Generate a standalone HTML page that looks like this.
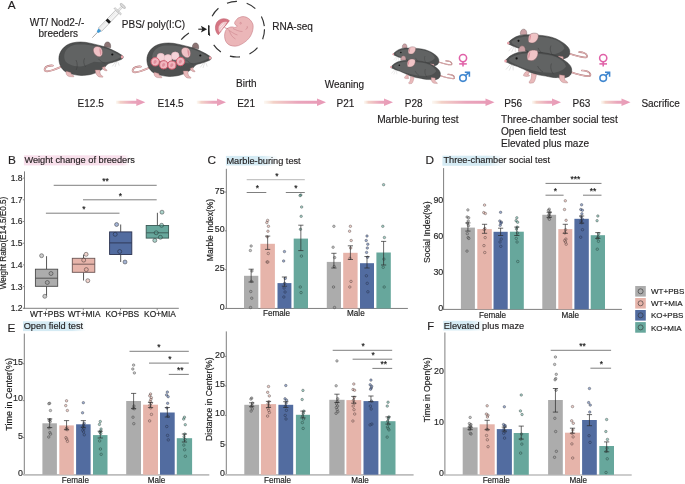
<!DOCTYPE html>
<html><head><meta charset="utf-8"><style>
html,body{margin:0;padding:0;background:#fff;}
svg{display:block;font-family:"Liberation Sans", sans-serif;will-change:transform;}
text{stroke:#1a1a1a;stroke-width:0.22px;stroke-opacity:0.7;}
</style></head><body>
<svg width="685" height="484" viewBox="0 0 685 484">
<rect width="685" height="484" fill="#fff"/>
<defs>
<g id="mouse">
<path d="M60.6,67 C55,69.5 49,72 46,71.2 C43.6,70.5 44.6,67.4 47.6,66.2 C49.4,65.6 51.2,65.4 52.8,65.6" fill="none" stroke="#a87476" stroke-width="1.8" stroke-linecap="round"/><path d="M60.6,67 C55,69.5 49,72 46,71.2 C43.6,70.5 44.6,67.4 47.6,66.2 C49.4,65.6 51.2,65.4 52.8,65.6" fill="none" stroke="#ebbcbd" stroke-width="1.1" stroke-linecap="round"/>
<path d="M104.4,46.8 C104,44 105.4,41.9 107.6,41.9 C110,41.9 111,44.4 110.6,47.8 Z" fill="#8c7474" stroke="#4a3c3c" stroke-width="0.4"/>
<path d="M58.9,58.8 C58.8,52 64,45 72,43 C78,41.5 84,41.8 90,43.2 C96,44.5 101,45.8 104.5,46.8 C110,48.5 117,52 122.3,55.5 C123.8,56.5 123.5,58.5 121.5,59.3 C119,60.2 117.5,61 115.8,61.5 C113,62.4 110,63 108.8,63.5 C107,64.5 106,65.5 105.4,66.6 C101,70.5 96.5,73 92.3,74 C88,75.2 84.5,75.5 81,75.4 C76,75.2 70,74 66,72 C61.5,69.5 59,64.5 58.9,58.8 Z" fill="#4e5050" stroke="#303030" stroke-width="0.5"/>
<path d="M64.3,55 C65.5,48.5 71,45 77,44.6 C83,44.2 90,44.8 96,46.2 C101,47.4 106,48.6 110,50.2 C115,52.5 119,54.8 121.5,56.6 C119,58.6 115,60.4 110,61.4 C104,62.5 98,62.4 94,61.8 C90,63.4 86,66.2 80,66.4 C73,66.6 67.5,64 65.6,61.6 C64.4,59.6 64,57 64.3,55 Z" fill="#616363"/>
<path d="M76,60 C77.6,63 77.6,67 76.2,70 M84.6,58.2 C83.2,61 83.6,64.4 85.6,66.8 M98.4,58.8 C100.5,61.5 103,62.8 105.5,63.2" fill="none" stroke="#383838" stroke-width="0.45"/>
<path d="M66.2,71.2 C65.6,73.8 66.6,75.8 69.2,76.6 L73.8,76.8 C74.2,75.6 72.6,74.8 71.4,74.4 L70.6,72.6 Z" fill="#e9b9ba" stroke="#a87476" stroke-width="0.4"/>
<path d="M95.2,70 C95.6,73.2 96.6,75.6 99,76.9 L102.8,77.2 C103.2,76.2 101.8,75.4 100.6,75 C100,73.4 99.8,71.6 100,70 Z" fill="#e9b9ba" stroke="#a87476" stroke-width="0.4"/>
<path d="M102.2,67.4 C102.6,69.6 104.6,70.9 107,70.8 C107.2,69.8 106,69.2 105,68.8 L105,66.4 Z" fill="#e9b9ba" stroke="#a87476" stroke-width="0.4"/>
<path d="M93.4,51.2 C92.8,48.2 94.8,46.4 97.6,46.5 C100.6,46.6 102.6,49 102.6,52.6 C102.6,55.2 101.2,56.8 99.4,56.8 C96.6,56.6 93.9,54.2 93.4,51.2 Z" fill="#f0c2c6" stroke="#6e5256" stroke-width="0.45"/>
<path d="M99.4,48 C101.6,49.6 102,52.8 100.8,55.8 C100,54 99.2,51 99.4,48 Z" fill="#d98f9a"/>
<circle cx="112.3" cy="54.5" r="1.1" fill="#111"/>
<ellipse cx="122.1" cy="56.9" rx="1.3" ry="1.6" fill="#e9a2aa"/>
<path d="M115.5,62 L112.3,66.4 M116.6,62 L115,67 M117.8,61.6 L119.2,65.6" stroke="#b4b4b4" stroke-width="0.35" fill="none"/>
</g>
<g id="wmouse">
<path d="M570,71.8 C577,74.2 584,76.4 589,76.2 C591.4,76 590.6,73 587.6,71.6 C585.6,70.7 583.6,70.4 581.8,70.5" fill="none" stroke="#a87476" stroke-width="1.7" stroke-linecap="round"/><path d="M570,71.8 C577,74.2 584,76.4 589,76.2 C591.4,76 590.6,73 587.6,71.6 C585.6,70.7 583.6,70.4 581.8,70.5" fill="none" stroke="#ebbcbd" stroke-width="1.0" stroke-linecap="round"/>
<path d="M518.6,51.6 C518.2,48.2 519.8,45.8 522.2,45.8 C524.6,45.8 525.8,48.4 525.4,51.8 Z" fill="#caa0a4" stroke="#5a4848" stroke-width="0.4"/>
<path d="M505.3,60.6 C507.5,57.8 512,54 518,52.6 C524,51.4 532,51.8 541.6,52.6 C549,53.2 556,55.2 561,58.2 C566.5,61.5 571,65 571.6,68.8 C572,72.5 571,75 569.3,76 C566,78.2 561.5,78.2 557.5,77.6 C553,77.8 549,76.8 545.8,76 C538,75.2 531,73 527,70.8 C522,68.4 518,66.6 515.3,65.8 C512,64.8 509.5,63.6 507.6,62.6 C506,62.1 505,61.4 505.3,60.6 Z" fill="#4e5050" stroke="#303030" stroke-width="0.5"/>
<path d="M509,59.2 C513,55.6 520,53.6 530,53.6 C540,53.6 550,54.6 557,57.6 C562,60 565,63 566,66.5 C563,70.5 558,72.6 552,72.8 C544,73 536,71.8 529,69.6 C522,67.6 516,65 511.6,62.6 C510,61.6 509,60.4 509,59.2 Z" fill="#616363"/>
<path d="M551.5,63.5 C550,67 551,71 553.5,74.2 M537.6,66 C538.8,68.6 540.6,70.6 543,72" fill="none" stroke="#383838" stroke-width="0.45"/>
<path d="M559.4,74.8 C558.8,78.2 560,81.4 563,82.6 L567.6,83 C568,81.8 566.4,80.8 564.8,80.4 L564.6,75.6 Z" fill="#e9b9ba" stroke="#a87476" stroke-width="0.4"/>
<path d="M531.4,73.4 C532,76.8 531.2,79.8 529.4,81.4 C528.6,82.2 529.2,83.2 530.6,83.2 L533.4,82.8 C534.6,81.8 535.2,79.6 535.8,77.6 L536.4,74.6 Z" fill="#e9b9ba" stroke="#a87476" stroke-width="0.4"/>
<path d="M526.6,71 C525,72.4 523.6,74.2 523.4,75.6 C524.6,76.6 527.4,76.6 529.4,76 C529.8,75 528.6,74.6 527.6,74.6 L529.6,72.4 Z" fill="#e9b9ba" stroke="#a87476" stroke-width="0.4"/>
<path d="M527.4,59.6 C526.6,55.5 527.4,51.8 530.5,50.6 C533,49.8 536.2,50 537.6,51.2 C538.6,53.5 537.6,57.2 535,59.4 C532.8,61.2 529.2,61.2 527.4,59.6 Z" fill="#f0c4c6" stroke="#6e5256" stroke-width="0.45"/>
<path d="M528.6,58.8 C527.8,55.6 528.4,53 530.4,51.4 C529.8,54 529.8,56.6 528.6,58.8 Z" fill="#d98f9a"/>
<circle cx="516.6" cy="58.4" r="1.1" fill="#111"/>
<ellipse cx="505.6" cy="60.9" rx="1.3" ry="1.5" fill="#e9a2aa"/>
<path d="M510.5,64.2 L506,69.5 M511.8,64.6 L509.2,70.6 M513,64.8 L513.2,70.4" stroke="#b4b4b4" stroke-width="0.35" fill="none"/>
</g>
<linearGradient id="gp" x1="0" x2="1"><stop offset="0" stop-color="#f9e0ec"/><stop offset="0.85" stop-color="#fbe7f0"/><stop offset="1" stop-color="#fdf3f7"/></linearGradient>
<linearGradient id="bp" x1="0" x2="1"><stop offset="0" stop-color="#d6eef6"/><stop offset="0.7" stop-color="#e4f3f9"/><stop offset="1" stop-color="#ffffff"/></linearGradient>
<linearGradient id="ag0" gradientUnits="userSpaceOnUse" x1="116" x2="145.3" y1="0" y2="0"><stop offset="0" stop-color="#f6e6d4" stop-opacity="0.3"/><stop offset="0.15" stop-color="#f3d2c8"/><stop offset="0.55" stop-color="#eaa6bc"/><stop offset="1" stop-color="#e898b6"/></linearGradient>
<linearGradient id="ag1" gradientUnits="userSpaceOnUse" x1="196.8" x2="226" y1="0" y2="0"><stop offset="0" stop-color="#f6e6d4" stop-opacity="0.3"/><stop offset="0.15" stop-color="#f3d2c8"/><stop offset="0.55" stop-color="#eaa6bc"/><stop offset="1" stop-color="#e898b6"/></linearGradient>
<linearGradient id="ag2" gradientUnits="userSpaceOnUse" x1="264" x2="326" y1="0" y2="0"><stop offset="0" stop-color="#f6e6d4" stop-opacity="0.3"/><stop offset="0.15" stop-color="#f3d2c8"/><stop offset="0.55" stop-color="#eaa6bc"/><stop offset="1" stop-color="#e898b6"/></linearGradient>
<linearGradient id="ag3" gradientUnits="userSpaceOnUse" x1="364" x2="393" y1="0" y2="0"><stop offset="0" stop-color="#f6e6d4" stop-opacity="0.3"/><stop offset="0.15" stop-color="#f3d2c8"/><stop offset="0.55" stop-color="#eaa6bc"/><stop offset="1" stop-color="#e898b6"/></linearGradient>
<linearGradient id="ag4" gradientUnits="userSpaceOnUse" x1="432" x2="494.5" y1="0" y2="0"><stop offset="0" stop-color="#f6e6d4" stop-opacity="0.3"/><stop offset="0.15" stop-color="#f3d2c8"/><stop offset="0.55" stop-color="#eaa6bc"/><stop offset="1" stop-color="#e898b6"/></linearGradient>
<linearGradient id="ag5" gradientUnits="userSpaceOnUse" x1="532" x2="561" y1="0" y2="0"><stop offset="0" stop-color="#f6e6d4" stop-opacity="0.3"/><stop offset="0.15" stop-color="#f3d2c8"/><stop offset="0.55" stop-color="#eaa6bc"/><stop offset="1" stop-color="#e898b6"/></linearGradient>
<linearGradient id="ag6" gradientUnits="userSpaceOnUse" x1="601" x2="630.5" y1="0" y2="0"><stop offset="0" stop-color="#f6e6d4" stop-opacity="0.3"/><stop offset="0.15" stop-color="#f3d2c8"/><stop offset="0.55" stop-color="#eaa6bc"/><stop offset="1" stop-color="#e898b6"/></linearGradient>
<linearGradient id="tg0" gradientUnits="userSpaceOnUse" x1="23.9" x2="130" y1="0" y2="0"><stop offset="0" stop-color="#f8dfeb"/><stop offset="0.925" stop-color="#f8dfeb"/><stop offset="1" stop-color="#f8dfeb" stop-opacity="0"/></linearGradient>
<linearGradient id="tg1" gradientUnits="userSpaceOnUse" x1="225.9" x2="278" y1="0" y2="0"><stop offset="0" stop-color="#d5ebf4"/><stop offset="0.693" stop-color="#d5ebf4"/><stop offset="1" stop-color="#d5ebf4" stop-opacity="0"/></linearGradient>
<linearGradient id="tg2" gradientUnits="userSpaceOnUse" x1="442.4" x2="506" y1="0" y2="0"><stop offset="0" stop-color="#d5ebf4"/><stop offset="0.701" stop-color="#d5ebf4"/><stop offset="1" stop-color="#d5ebf4" stop-opacity="0"/></linearGradient>
<linearGradient id="tg3" gradientUnits="userSpaceOnUse" x1="23" x2="86" y1="0" y2="0"><stop offset="0" stop-color="#d5ebf4"/><stop offset="0.778" stop-color="#d5ebf4"/><stop offset="1" stop-color="#d5ebf4" stop-opacity="0"/></linearGradient>
<linearGradient id="tg4" gradientUnits="userSpaceOnUse" x1="443.3" x2="486" y1="0" y2="0"><stop offset="0" stop-color="#d5ebf4"/><stop offset="0.625" stop-color="#d5ebf4"/><stop offset="1" stop-color="#d5ebf4" stop-opacity="0"/></linearGradient>
</defs>
<text x="7.8" y="8.8" font-size="11.8" text-anchor="start" fill="#231f20" >A</text>
<text x="29.8" y="25.5" font-size="10" text-anchor="start" fill="#231f20" >WT/ Nod2-/-</text>
<text x="38.5" y="37.2" font-size="10" text-anchor="start" fill="#231f20" >breeders</text>
<text x="121.8" y="27.6" font-size="10" text-anchor="start" fill="#231f20" >PBS/ poly(I:C)</text>
<text x="272.2" y="30.4" font-size="10" text-anchor="start" fill="#231f20" >RNA-seq</text>
<text x="236.0" y="87.2" font-size="10" text-anchor="start" fill="#231f20" >Birth</text>
<text x="324.8" y="87.6" font-size="10" text-anchor="start" fill="#231f20" >Weaning</text>
<text x="77.6" y="106.9" font-size="10" text-anchor="start" fill="#231f20" >E12.5</text>
<text x="157.5" y="106.9" font-size="10" text-anchor="start" fill="#231f20" >E14.5</text>
<text x="237.2" y="106.9" font-size="10" text-anchor="start" fill="#231f20" >E21</text>
<text x="336.5" y="106.9" font-size="10" text-anchor="start" fill="#231f20" >P21</text>
<text x="404.8" y="106.9" font-size="10" text-anchor="start" fill="#231f20" >P28</text>
<text x="504.3" y="106.9" font-size="10" text-anchor="start" fill="#231f20" >P56</text>
<text x="572.5" y="106.9" font-size="10" text-anchor="start" fill="#231f20" >P63</text>
<text x="641.4" y="106.9" font-size="10" text-anchor="start" fill="#231f20" >Sacrifice</text>
<text x="377.2" y="123.0" font-size="10.1" text-anchor="start" fill="#231f20" >Marble-buring test</text>
<text x="501.0" y="123.0" font-size="10.1" text-anchor="start" fill="#231f20" >Three-chamber social test</text>
<text x="501.0" y="135.1" font-size="10.1" text-anchor="start" fill="#231f20" >Open field test</text>
<text x="501.0" y="147.2" font-size="10.1" text-anchor="start" fill="#231f20" >Elevated plus maze</text>
<path d="M116,100.8 L136.3,100.8 L136.3,98.4 L145.3,102.3 L136.3,106.1 L136.3,103.8 L116,103.8 Z" fill="url(#ag0)"/>
<path d="M196.8,100.8 L217,100.8 L217,98.4 L226,102.3 L217,106.1 L217,103.8 L196.8,103.8 Z" fill="url(#ag1)"/>
<path d="M264,100.8 L317,100.8 L317,98.4 L326,102.3 L317,106.1 L317,103.8 L264,103.8 Z" fill="url(#ag2)"/>
<path d="M364,100.8 L384,100.8 L384,98.4 L393,102.3 L384,106.1 L384,103.8 L364,103.8 Z" fill="url(#ag3)"/>
<path d="M432,100.8 L485.5,100.8 L485.5,98.4 L494.5,102.3 L485.5,106.1 L485.5,103.8 L432,103.8 Z" fill="url(#ag4)"/>
<path d="M532,100.8 L552,100.8 L552,98.4 L561,102.3 L552,106.1 L552,103.8 L532,103.8 Z" fill="url(#ag5)"/>
<path d="M601,100.8 L621.5,100.8 L621.5,98.4 L630.5,102.3 L621.5,106.1 L621.5,103.8 L601,103.8 Z" fill="url(#ag6)"/>
<circle cx="236.7" cy="29.2" r="27.8" fill="none" stroke="#333" stroke-width="1.15" stroke-dasharray="10.2 9.94"/>
<path d="M181.2,39.7 Q184.8,35.8 188.9,33.1" fill="none" stroke="#333" stroke-width="1.15"/>
<line x1="198.3" y1="29.2" x2="204" y2="29.2" stroke="#222" stroke-width="1.1"/>
<path d="M200.9,25.8 L207.1,29.2 L200.9,32.6 L202.3,29.2 Z" fill="#222"/>
<line x1="208.6" y1="25.3" x2="208.6" y2="35" stroke="#222" stroke-width="1.1"/>
<path d="M243.1,16.6 C247,16.6 251,19.5 252.8,24 C254,28 252,34 249.7,37.3 C247,41 243,43.8 238.5,45.6 C235,46.8 230,46 227.8,43.9 C224.8,41.3 223.8,36 225.3,31.5 C226,29.6 226.8,28.8 227.8,28.2 C229.5,27 232,26.6 233.6,27.2 C234.8,27.8 236.4,27.2 237.3,26.1 C236.6,25.4 235.6,25.1 235.1,24.5 C234.5,23.6 234.5,22.8 234.8,22.3 C235.3,21 235.8,20.5 236.4,19.9 C237.2,18.6 238.2,17.8 239.3,17.6 C240.5,16.9 241.8,16.6 243.1,16.6 Z" fill="#ebb6b8" stroke="#c77a84" stroke-width="0.6"/>
<path d="M227.8,29.5 C231,31.5 234,34 237.5,35 M229.5,31 C230.5,34.5 232.5,37.5 235.5,39 M233,28.5 C236,30 239,31.5 242.5,31.5" fill="none" stroke="#c77a84" stroke-width="0.5"/>
<circle cx="240.6" cy="23.2" r="0.8" fill="none" stroke="#c77a84" stroke-width="0.5"/>
<path d="M247.2,26.2 Q248.2,28.6 245.6,29.4" fill="none" stroke="#c77a84" stroke-width="0.55"/>
<path d="M229.4,20.7 C226,17.6 219.6,18 216.8,22.5 C214.6,26.4 215,31.5 218.3,34.8 Z" fill="#d57583" stroke="#b8505f" stroke-width="0.5"/>
<path d="M227.3,22.1 C224.2,20.8 220.2,22.6 218.9,26.2 C218.1,28.6 218.4,30.8 219.6,32.4 Z" fill="#f0c6ca"/>
<path d="M220.5,29.5 L225,24.5 M221.5,31 L226,26 M219.8,27.5 L223.5,23.3" stroke="#ffffff" stroke-width="0.6"/>
<path d="M224.5,27.5 C225.5,28.2 226.8,28.6 228,28.6" fill="none" stroke="#c77a84" stroke-width="0.8"/>
<g transform="translate(92.3,37.7) rotate(-46.1)"><line x1="0" y1="0" x2="9" y2="0" stroke="#8a8a8a" stroke-width="0.7"/><path d="M7.6,-1.1 L11.2,-2.1 L11.2,2.1 L7.6,1.1 Z" fill="#3f9ad6"/><rect x="11.2" y="-2.3" width="24.8" height="4.6" fill="#f3f3f3" stroke="#a0a0a0" stroke-width="0.55"/><line x1="13.5" y1="-0.9" x2="33.5" y2="-0.9" stroke="#bdbdbd" stroke-width="0.6" stroke-dasharray="0.5 1.1"/><rect x="21.6" y="-2.3" width="2.9" height="4.6" fill="#1a1a1a"/><rect x="36" y="-4.6" width="1.5" height="9.2" rx="0.6" fill="#e8e8e8" stroke="#a0a0a0" stroke-width="0.5"/><rect x="37.5" y="-0.9" width="5.6" height="1.8" fill="#ececec" stroke="#a0a0a0" stroke-width="0.4"/><ellipse cx="44" cy="0" rx="1.3" ry="3.4" fill="#dcdcdc" stroke="#a0a0a0" stroke-width="0.5"/></g>
<use href="#mouse" />
<use href="#mouse" transform="translate(88,1)"/>
<circle cx="160.8" cy="57.2" r="3.9" fill="#f5d3d8" stroke="#eebcc4" stroke-width="0.6"/>
<circle cx="168.0" cy="58.5" r="3.9" fill="#f5d3d8" stroke="#eebcc4" stroke-width="0.6"/>
<circle cx="175.2" cy="55.9" r="3.9" fill="#f5d3d8" stroke="#eebcc4" stroke-width="0.6"/>
<circle cx="155.2" cy="61.8" r="4.2" fill="#f0b6be" stroke="#d25a6c" stroke-width="0.95"/>
<path d="M153.6,63.199999999999996 C153.2,61.199999999999996 154.6,59.599999999999994 156.0,60.199999999999996 C157.2,60.8 156.79999999999998,62.599999999999994 155.6,63.199999999999996 C155.0,64.0 154.2,64.0 153.6,63.199999999999996 Z" fill="#e08e9c"/>
<circle cx="163.7" cy="64.8" r="4.1" fill="#f0b6be" stroke="#d25a6c" stroke-width="0.95"/>
<path d="M162.1,66.2 C161.7,64.2 163.1,62.599999999999994 164.5,63.199999999999996 C165.7,63.8 165.29999999999998,65.6 164.1,66.2 C163.5,67.0 162.7,67.0 162.1,66.2 Z" fill="#e08e9c"/>
<circle cx="171.9" cy="65.1" r="4.1" fill="#f0b6be" stroke="#d25a6c" stroke-width="0.95"/>
<path d="M170.3,66.5 C169.9,64.5 171.3,62.89999999999999 172.70000000000002,63.49999999999999 C173.9,64.1 173.5,65.89999999999999 172.3,66.5 C171.70000000000002,67.3 170.9,67.3 170.3,66.5 Z" fill="#e08e9c"/>
<circle cx="180.5" cy="61.5" r="4.2" fill="#f0b6be" stroke="#d25a6c" stroke-width="0.95"/>
<path d="M178.9,62.9 C178.5,60.9 179.9,59.3 181.3,59.9 C182.5,60.5 182.1,62.3 180.9,62.9 C180.3,63.7 179.5,63.7 178.9,62.9 Z" fill="#e08e9c"/>
<use href="#wmouse" transform="translate(393.1,54.0) scale(0.69) translate(-505.3,-60.6)"/>
<use href="#wmouse" transform="translate(390.9,66.9) scale(0.746) translate(-505.3,-60.6)"/>
<use href="#wmouse" transform="translate(508.0,42.9) scale(0.93) translate(-505.3,-60.6)"/>
<use href="#wmouse"/>
<g fill="none" stroke-width="1.55"><circle cx="463.0" cy="58.1" r="3.6" stroke="#e062a8"/><line x1="463.0" y1="61.7" x2="463.0" y2="66.6" stroke="#e062a8"/><line x1="459.2" y1="63.9" x2="466.8" y2="63.9" stroke="#e062a8"/><circle cx="463.0" cy="78.1" r="3.3" stroke="#3f86cf"/><path d="M465.4,75.6 L469.4,72.2 M464.8,72.2 L469.4,72.2 L469.4,76.8" stroke="#3f86cf"/></g>
<g fill="none" stroke-width="1.55"><circle cx="603.2" cy="58.1" r="3.6" stroke="#e062a8"/><line x1="603.2" y1="61.7" x2="603.2" y2="66.6" stroke="#e062a8"/><line x1="599.4000000000001" y1="63.9" x2="607.0" y2="63.9" stroke="#e062a8"/><circle cx="603.2" cy="78.1" r="3.3" stroke="#3f86cf"/><path d="M605.6,75.6 L609.6,72.2 M605.0,72.2 L609.6,72.2 L609.6,76.8" stroke="#3f86cf"/></g>
<rect x="23.9" y="155.3" width="106.10" height="10.10" fill="url(#tg0)"/>
<text x="8.0" y="163.8" font-size="11.8" text-anchor="start" fill="#231f20" >B</text>
<text x="24.4" y="163.4" font-size="9.22" text-anchor="start" fill="#231f20" >Weight change of breeders</text>
<line x1="24.5" y1="171.4" x2="24.5" y2="308.8" stroke="#7f7f7f" stroke-width="1"/>
<line x1="22.9" y1="308.3" x2="24.5" y2="308.3" stroke="#7f7f7f" stroke-width="0.9"/>
<text x="22.6" y="311.21320000000003" font-size="8.6" text-anchor="end" fill="#2a2a2a" >1.2</text>
<line x1="22.9" y1="286.6" x2="24.5" y2="286.6" stroke="#7f7f7f" stroke-width="0.9"/>
<text x="22.6" y="289.51320000000004" font-size="8.6" text-anchor="end" fill="#2a2a2a" >1.3</text>
<line x1="22.9" y1="264.90000000000003" x2="24.5" y2="264.90000000000003" stroke="#7f7f7f" stroke-width="0.9"/>
<text x="22.6" y="267.81320000000005" font-size="8.6" text-anchor="end" fill="#2a2a2a" >1.4</text>
<line x1="22.9" y1="243.20000000000002" x2="24.5" y2="243.20000000000002" stroke="#7f7f7f" stroke-width="0.9"/>
<text x="22.6" y="246.11320000000003" font-size="8.6" text-anchor="end" fill="#2a2a2a" >1.5</text>
<line x1="22.9" y1="221.5" x2="24.5" y2="221.5" stroke="#7f7f7f" stroke-width="0.9"/>
<text x="22.6" y="224.41320000000002" font-size="8.6" text-anchor="end" fill="#2a2a2a" >1.6</text>
<line x1="22.9" y1="199.8" x2="24.5" y2="199.8" stroke="#7f7f7f" stroke-width="0.9"/>
<text x="22.6" y="202.71320000000003" font-size="8.6" text-anchor="end" fill="#2a2a2a" >1.7</text>
<line x1="22.9" y1="178.10000000000002" x2="24.5" y2="178.10000000000002" stroke="#7f7f7f" stroke-width="0.9"/>
<text x="22.6" y="181.01320000000004" font-size="8.6" text-anchor="end" fill="#2a2a2a" >1.8</text>
<line x1="23.5" y1="308.3" x2="178.8" y2="308.3" stroke="#7f7f7f" stroke-width="1"/>
<line x1="46.3" y1="308.3" x2="46.3" y2="310.3" stroke="#7f7f7f" stroke-width="0.9"/>
<line x1="83.3" y1="308.3" x2="83.3" y2="310.3" stroke="#7f7f7f" stroke-width="0.9"/>
<line x1="120.5" y1="308.3" x2="120.5" y2="310.3" stroke="#7f7f7f" stroke-width="0.9"/>
<line x1="157.2" y1="308.3" x2="157.2" y2="310.3" stroke="#7f7f7f" stroke-width="0.9"/>
<text x="47.3" y="317.2" font-size="8.4" text-anchor="middle" fill="#222" >WT+PBS</text>
<text x="84.1" y="317.2" font-size="8.4" text-anchor="middle" fill="#222" >WT+MIA</text>
<text x="122.3" y="317.2" font-size="8.4" text-anchor="middle" fill="#222" >KO+PBS</text>
<text x="160" y="317.2" font-size="8.4" text-anchor="middle" fill="#222" >KO+MIA</text>
<text x="0" y="0" font-size="8.2" text-anchor="middle" fill="#222" transform="translate(5.8,243) rotate(-90)">Weight Ratio(E14.5/E0.5)</text>
<line x1="46.55" y1="256.2" x2="46.55" y2="269.2" stroke="#444" stroke-width="0.9"/>
<line x1="46.55" y1="286.3" x2="46.55" y2="295.4" stroke="#444" stroke-width="0.9"/>
<rect x="35.4" y="269.2" width="22.30" height="17.10" fill="#acacac" stroke="#4a4a4a" stroke-width="0.9"/>
<line x1="35.4" y1="278.2" x2="57.7" y2="278.2" stroke="#4a4a4a" stroke-width="0.9"/>
<circle cx="41.60" cy="255.70" r="2.0" fill="#9a9a9a" stroke="#1a1a1a" stroke-width="0.7" fill-opacity="0.5" stroke-opacity="0.6"/>
<circle cx="51.00" cy="273.50" r="2.0" fill="#9a9a9a" stroke="#1a1a1a" stroke-width="0.7" fill-opacity="0.5" stroke-opacity="0.6"/>
<circle cx="47.30" cy="282.50" r="2.0" fill="#9a9a9a" stroke="#1a1a1a" stroke-width="0.7" fill-opacity="0.5" stroke-opacity="0.6"/>
<circle cx="44.80" cy="296.30" r="2.0" fill="#9a9a9a" stroke="#1a1a1a" stroke-width="0.7" fill-opacity="0.5" stroke-opacity="0.6"/>
<line x1="83.55" y1="254.6" x2="83.55" y2="258.3" stroke="#444" stroke-width="0.9"/>
<line x1="83.55" y1="272.3" x2="83.55" y2="280.5" stroke="#444" stroke-width="0.9"/>
<rect x="72.3" y="258.3" width="22.50" height="14.00" fill="#e6b4aa" stroke="#6b5553" stroke-width="0.9"/>
<line x1="72.3" y1="264.2" x2="94.8" y2="264.2" stroke="#6b5553" stroke-width="0.9"/>
<circle cx="86.10" cy="254.30" r="2.0" fill="#e2a89c" stroke="#1a1a1a" stroke-width="0.7" fill-opacity="0.5" stroke-opacity="0.6"/>
<circle cx="83.70" cy="260.10" r="2.0" fill="#e2a89c" stroke="#1a1a1a" stroke-width="0.7" fill-opacity="0.5" stroke-opacity="0.6"/>
<circle cx="86.30" cy="269.60" r="2.0" fill="#e2a89c" stroke="#1a1a1a" stroke-width="0.7" fill-opacity="0.5" stroke-opacity="0.6"/>
<circle cx="87.80" cy="280.70" r="2.0" fill="#e2a89c" stroke="#1a1a1a" stroke-width="0.7" fill-opacity="0.5" stroke-opacity="0.6"/>
<line x1="120.7" y1="224.5" x2="120.7" y2="231.9" stroke="#444" stroke-width="0.9"/>
<line x1="120.7" y1="254.5" x2="120.7" y2="262" stroke="#444" stroke-width="0.9"/>
<rect x="109.6" y="231.9" width="22.20" height="22.60" fill="#526ca0" stroke="#2c3350" stroke-width="0.9"/>
<line x1="109.6" y1="242.9" x2="131.8" y2="242.9" stroke="#2c3350" stroke-width="0.9"/>
<circle cx="116.60" cy="224.50" r="2.0" fill="#4a68a8" stroke="#1a1a1a" stroke-width="0.7" fill-opacity="0.5" stroke-opacity="0.6"/>
<circle cx="115.20" cy="234.30" r="2.0" fill="#4a68a8" stroke="#1a1a1a" stroke-width="0.7" fill-opacity="0.5" stroke-opacity="0.6"/>
<circle cx="119.70" cy="251.50" r="2.0" fill="#4a68a8" stroke="#1a1a1a" stroke-width="0.7" fill-opacity="0.5" stroke-opacity="0.6"/>
<circle cx="125.00" cy="262.00" r="2.0" fill="#4a68a8" stroke="#1a1a1a" stroke-width="0.7" fill-opacity="0.5" stroke-opacity="0.6"/>
<line x1="157.39999999999998" y1="212.8" x2="157.39999999999998" y2="225.5" stroke="#444" stroke-width="0.9"/>
<line x1="157.39999999999998" y1="238.1" x2="157.39999999999998" y2="238.1" stroke="#444" stroke-width="0.9"/>
<rect x="146.2" y="225.5" width="22.40" height="12.60" fill="#67a79c" stroke="#3a5a55" stroke-width="0.9"/>
<line x1="146.2" y1="232.8" x2="168.6" y2="232.8" stroke="#3a5a55" stroke-width="0.9"/>
<circle cx="162.00" cy="212.20" r="2.0" fill="#5aa898" stroke="#1a1a1a" stroke-width="0.7" fill-opacity="0.5" stroke-opacity="0.6"/>
<circle cx="161.60" cy="225.30" r="2.0" fill="#5aa898" stroke="#1a1a1a" stroke-width="0.7" fill-opacity="0.5" stroke-opacity="0.6"/>
<circle cx="156.20" cy="232.80" r="2.0" fill="#5aa898" stroke="#1a1a1a" stroke-width="0.7" fill-opacity="0.5" stroke-opacity="0.6"/>
<circle cx="160.40" cy="237.30" r="2.0" fill="#5aa898" stroke="#1a1a1a" stroke-width="0.7" fill-opacity="0.5" stroke-opacity="0.6"/>
<circle cx="154.80" cy="240.40" r="2.0" fill="#5aa898" stroke="#1a1a1a" stroke-width="0.7" fill-opacity="0.5" stroke-opacity="0.6"/>
<line x1="53.7" y1="185.3" x2="156.7" y2="185.3" stroke="#7f7f7f" stroke-width="1"/>
<text x="105.5" y="184.20000000000002" font-size="8.5" text-anchor="middle" fill="#111" >**</text>
<line x1="83" y1="199.8" x2="156.7" y2="199.8" stroke="#7f7f7f" stroke-width="1"/>
<text x="120.4" y="198.70000000000002" font-size="8.5" text-anchor="middle" fill="#111" >*</text>
<line x1="45.9" y1="213.2" x2="119.5" y2="213.2" stroke="#7f7f7f" stroke-width="1"/>
<text x="83.9" y="212.1" font-size="8.5" text-anchor="middle" fill="#111" >*</text>
<rect x="225.9" y="155.9" width="52.10" height="9.60" fill="url(#tg1)"/>
<text x="207.4" y="164.4" font-size="11.8" text-anchor="start" fill="#231f20" >C</text>
<text x="226.4" y="163.5" font-size="9.22" text-anchor="start" fill="#231f20" >Marble-buring test</text>
<line x1="226.35" y1="168.8" x2="226.35" y2="308.95" stroke="#7f7f7f" stroke-width="1"/>
<line x1="224.75" y1="308.45" x2="226.35" y2="308.45" stroke="#7f7f7f" stroke-width="0.9"/>
<text x="224.6" y="310.0356" font-size="8.8" text-anchor="end" fill="#2a2a2a" >0</text>
<line x1="224.75" y1="269.65" x2="226.35" y2="269.65" stroke="#7f7f7f" stroke-width="0.9"/>
<text x="224.6" y="271.2356" font-size="8.8" text-anchor="end" fill="#2a2a2a" >25</text>
<line x1="224.75" y1="230.85" x2="226.35" y2="230.85" stroke="#7f7f7f" stroke-width="0.9"/>
<text x="224.6" y="232.4356" font-size="8.8" text-anchor="end" fill="#2a2a2a" >50</text>
<line x1="224.75" y1="192.05" x2="226.35" y2="192.05" stroke="#7f7f7f" stroke-width="0.9"/>
<text x="224.6" y="193.6356" font-size="8.8" text-anchor="end" fill="#2a2a2a" >75</text>
<line x1="225.35" y1="308.45" x2="407.9" y2="308.45" stroke="#7f7f7f" stroke-width="1"/>
<text x="0" y="0" font-size="8.5" text-anchor="middle" fill="#222" transform="translate(213.4,230) rotate(-90)">Marble Index(%)</text>
<rect x="244.00" y="275.80" width="14.30" height="32.65" fill="#acacac" />
<rect x="260.40" y="243.80" width="14.50" height="64.65" fill="#e6b4aa" />
<rect x="277.50" y="283.10" width="13.90" height="25.35" fill="#526ca0" />
<rect x="293.70" y="238.60" width="14.30" height="69.85" fill="#67a79c" />
<rect x="326.80" y="261.90" width="14.20" height="46.55" fill="#acacac" />
<rect x="343.20" y="252.80" width="14.40" height="55.65" fill="#e6b4aa" />
<rect x="360.00" y="263.20" width="14.00" height="45.25" fill="#526ca0" />
<rect x="376.40" y="252.50" width="14.40" height="55.95" fill="#67a79c" />
<circle cx="251.15" cy="246.00" r="1.25" fill="#9a9a9a" stroke="#1a1a1a" stroke-width="0.5" fill-opacity="0.55" stroke-opacity="0.65"/>
<circle cx="250.35" cy="250.50" r="1.25" fill="#9a9a9a" stroke="#1a1a1a" stroke-width="0.5" fill-opacity="0.55" stroke-opacity="0.65"/>
<circle cx="251.95" cy="271.00" r="1.25" fill="#9a9a9a" stroke="#1a1a1a" stroke-width="0.5" fill-opacity="0.55" stroke-opacity="0.65"/>
<circle cx="251.45" cy="281.40" r="1.25" fill="#9a9a9a" stroke="#1a1a1a" stroke-width="0.5" fill-opacity="0.55" stroke-opacity="0.65"/>
<circle cx="250.75" cy="291.50" r="1.25" fill="#9a9a9a" stroke="#1a1a1a" stroke-width="0.5" fill-opacity="0.55" stroke-opacity="0.65"/>
<circle cx="251.75" cy="298.20" r="1.25" fill="#9a9a9a" stroke="#1a1a1a" stroke-width="0.5" fill-opacity="0.55" stroke-opacity="0.65"/>
<circle cx="250.55" cy="307.50" r="1.25" fill="#9a9a9a" stroke="#1a1a1a" stroke-width="0.5" fill-opacity="0.55" stroke-opacity="0.65"/>
<circle cx="267.65" cy="220.40" r="1.25" fill="#e2a89c" stroke="#1a1a1a" stroke-width="0.5" fill-opacity="0.55" stroke-opacity="0.65"/>
<circle cx="266.85" cy="222.60" r="1.25" fill="#e2a89c" stroke="#1a1a1a" stroke-width="0.5" fill-opacity="0.55" stroke-opacity="0.65"/>
<circle cx="268.45" cy="226.30" r="1.25" fill="#e2a89c" stroke="#1a1a1a" stroke-width="0.5" fill-opacity="0.55" stroke-opacity="0.65"/>
<circle cx="267.95" cy="231.20" r="1.25" fill="#e2a89c" stroke="#1a1a1a" stroke-width="0.5" fill-opacity="0.55" stroke-opacity="0.65"/>
<circle cx="267.25" cy="236.80" r="1.25" fill="#e2a89c" stroke="#1a1a1a" stroke-width="0.5" fill-opacity="0.55" stroke-opacity="0.65"/>
<circle cx="268.25" cy="253.50" r="1.25" fill="#e2a89c" stroke="#1a1a1a" stroke-width="0.5" fill-opacity="0.55" stroke-opacity="0.65"/>
<circle cx="267.05" cy="262.00" r="1.25" fill="#e2a89c" stroke="#1a1a1a" stroke-width="0.5" fill-opacity="0.55" stroke-opacity="0.65"/>
<circle cx="267.85" cy="262.00" r="1.25" fill="#e2a89c" stroke="#1a1a1a" stroke-width="0.5" fill-opacity="0.55" stroke-opacity="0.65"/>
<circle cx="284.45" cy="251.60" r="1.25" fill="#4a68a8" stroke="#1a1a1a" stroke-width="0.5" fill-opacity="0.55" stroke-opacity="0.65"/>
<circle cx="283.65" cy="261.00" r="1.25" fill="#4a68a8" stroke="#1a1a1a" stroke-width="0.5" fill-opacity="0.55" stroke-opacity="0.65"/>
<circle cx="285.25" cy="278.40" r="1.25" fill="#4a68a8" stroke="#1a1a1a" stroke-width="0.5" fill-opacity="0.55" stroke-opacity="0.65"/>
<circle cx="284.75" cy="283.30" r="1.25" fill="#4a68a8" stroke="#1a1a1a" stroke-width="0.5" fill-opacity="0.55" stroke-opacity="0.65"/>
<circle cx="284.05" cy="288.00" r="1.25" fill="#4a68a8" stroke="#1a1a1a" stroke-width="0.5" fill-opacity="0.55" stroke-opacity="0.65"/>
<circle cx="285.05" cy="292.00" r="1.25" fill="#4a68a8" stroke="#1a1a1a" stroke-width="0.5" fill-opacity="0.55" stroke-opacity="0.65"/>
<circle cx="283.85" cy="297.00" r="1.25" fill="#4a68a8" stroke="#1a1a1a" stroke-width="0.5" fill-opacity="0.55" stroke-opacity="0.65"/>
<circle cx="300.85" cy="195.00" r="1.25" fill="#5aa898" stroke="#1a1a1a" stroke-width="0.5" fill-opacity="0.55" stroke-opacity="0.65"/>
<circle cx="300.05" cy="195.60" r="1.25" fill="#5aa898" stroke="#1a1a1a" stroke-width="0.5" fill-opacity="0.55" stroke-opacity="0.65"/>
<circle cx="301.65" cy="207.00" r="1.25" fill="#5aa898" stroke="#1a1a1a" stroke-width="0.5" fill-opacity="0.55" stroke-opacity="0.65"/>
<circle cx="301.15" cy="216.30" r="1.25" fill="#5aa898" stroke="#1a1a1a" stroke-width="0.5" fill-opacity="0.55" stroke-opacity="0.65"/>
<circle cx="300.45" cy="229.30" r="1.25" fill="#5aa898" stroke="#1a1a1a" stroke-width="0.5" fill-opacity="0.55" stroke-opacity="0.65"/>
<circle cx="301.45" cy="256.10" r="1.25" fill="#5aa898" stroke="#1a1a1a" stroke-width="0.5" fill-opacity="0.55" stroke-opacity="0.65"/>
<circle cx="300.25" cy="287.00" r="1.25" fill="#5aa898" stroke="#1a1a1a" stroke-width="0.5" fill-opacity="0.55" stroke-opacity="0.65"/>
<circle cx="301.05" cy="292.60" r="1.25" fill="#5aa898" stroke="#1a1a1a" stroke-width="0.5" fill-opacity="0.55" stroke-opacity="0.65"/>
<circle cx="333.90" cy="226.30" r="1.25" fill="#9a9a9a" stroke="#1a1a1a" stroke-width="0.5" fill-opacity="0.55" stroke-opacity="0.65"/>
<circle cx="333.10" cy="247.20" r="1.25" fill="#9a9a9a" stroke="#1a1a1a" stroke-width="0.5" fill-opacity="0.55" stroke-opacity="0.65"/>
<circle cx="334.70" cy="257.60" r="1.25" fill="#9a9a9a" stroke="#1a1a1a" stroke-width="0.5" fill-opacity="0.55" stroke-opacity="0.65"/>
<circle cx="334.20" cy="266.50" r="1.25" fill="#9a9a9a" stroke="#1a1a1a" stroke-width="0.5" fill-opacity="0.55" stroke-opacity="0.65"/>
<circle cx="333.50" cy="287.00" r="1.25" fill="#9a9a9a" stroke="#1a1a1a" stroke-width="0.5" fill-opacity="0.55" stroke-opacity="0.65"/>
<circle cx="334.50" cy="307.50" r="1.25" fill="#9a9a9a" stroke="#1a1a1a" stroke-width="0.5" fill-opacity="0.55" stroke-opacity="0.65"/>
<circle cx="350.40" cy="226.30" r="1.25" fill="#e2a89c" stroke="#1a1a1a" stroke-width="0.5" fill-opacity="0.55" stroke-opacity="0.65"/>
<circle cx="349.60" cy="231.20" r="1.25" fill="#e2a89c" stroke="#1a1a1a" stroke-width="0.5" fill-opacity="0.55" stroke-opacity="0.65"/>
<circle cx="351.20" cy="240.50" r="1.25" fill="#e2a89c" stroke="#1a1a1a" stroke-width="0.5" fill-opacity="0.55" stroke-opacity="0.65"/>
<circle cx="350.70" cy="248.00" r="1.25" fill="#e2a89c" stroke="#1a1a1a" stroke-width="0.5" fill-opacity="0.55" stroke-opacity="0.65"/>
<circle cx="350.00" cy="258.30" r="1.25" fill="#e2a89c" stroke="#1a1a1a" stroke-width="0.5" fill-opacity="0.55" stroke-opacity="0.65"/>
<circle cx="351.00" cy="281.40" r="1.25" fill="#e2a89c" stroke="#1a1a1a" stroke-width="0.5" fill-opacity="0.55" stroke-opacity="0.65"/>
<circle cx="349.80" cy="287.00" r="1.25" fill="#e2a89c" stroke="#1a1a1a" stroke-width="0.5" fill-opacity="0.55" stroke-opacity="0.65"/>
<circle cx="367.00" cy="236.00" r="1.25" fill="#4a68a8" stroke="#1a1a1a" stroke-width="0.5" fill-opacity="0.55" stroke-opacity="0.65"/>
<circle cx="366.20" cy="240.50" r="1.25" fill="#4a68a8" stroke="#1a1a1a" stroke-width="0.5" fill-opacity="0.55" stroke-opacity="0.65"/>
<circle cx="367.80" cy="244.20" r="1.25" fill="#4a68a8" stroke="#1a1a1a" stroke-width="0.5" fill-opacity="0.55" stroke-opacity="0.65"/>
<circle cx="367.30" cy="248.00" r="1.25" fill="#4a68a8" stroke="#1a1a1a" stroke-width="0.5" fill-opacity="0.55" stroke-opacity="0.65"/>
<circle cx="366.60" cy="252.40" r="1.25" fill="#4a68a8" stroke="#1a1a1a" stroke-width="0.5" fill-opacity="0.55" stroke-opacity="0.65"/>
<circle cx="367.60" cy="257.20" r="1.25" fill="#4a68a8" stroke="#1a1a1a" stroke-width="0.5" fill-opacity="0.55" stroke-opacity="0.65"/>
<circle cx="366.40" cy="275.80" r="1.25" fill="#4a68a8" stroke="#1a1a1a" stroke-width="0.5" fill-opacity="0.55" stroke-opacity="0.65"/>
<circle cx="367.20" cy="283.30" r="1.25" fill="#4a68a8" stroke="#1a1a1a" stroke-width="0.5" fill-opacity="0.55" stroke-opacity="0.65"/>
<circle cx="367.90" cy="291.80" r="1.25" fill="#4a68a8" stroke="#1a1a1a" stroke-width="0.5" fill-opacity="0.55" stroke-opacity="0.65"/>
<circle cx="383.60" cy="184.70" r="1.25" fill="#5aa898" stroke="#1a1a1a" stroke-width="0.5" fill-opacity="0.55" stroke-opacity="0.65"/>
<circle cx="382.80" cy="226.30" r="1.25" fill="#5aa898" stroke="#1a1a1a" stroke-width="0.5" fill-opacity="0.55" stroke-opacity="0.65"/>
<circle cx="384.40" cy="237.50" r="1.25" fill="#5aa898" stroke="#1a1a1a" stroke-width="0.5" fill-opacity="0.55" stroke-opacity="0.65"/>
<circle cx="383.90" cy="259.10" r="1.25" fill="#5aa898" stroke="#1a1a1a" stroke-width="0.5" fill-opacity="0.55" stroke-opacity="0.65"/>
<circle cx="383.20" cy="267.30" r="1.25" fill="#5aa898" stroke="#1a1a1a" stroke-width="0.5" fill-opacity="0.55" stroke-opacity="0.65"/>
<circle cx="384.20" cy="287.00" r="1.25" fill="#5aa898" stroke="#1a1a1a" stroke-width="0.5" fill-opacity="0.55" stroke-opacity="0.65"/>
<line x1="251.15" y1="269.2" x2="251.15" y2="282" stroke="#2a2a2a" stroke-width="0.7"/>
<line x1="248.55" y1="269.2" x2="253.75" y2="269.2" stroke="#2a2a2a" stroke-width="0.7"/>
<line x1="248.55" y1="282" x2="253.75" y2="282" stroke="#2a2a2a" stroke-width="0.7"/>
<line x1="267.65" y1="236.1" x2="267.65" y2="249.4" stroke="#2a2a2a" stroke-width="0.7"/>
<line x1="265.04999999999995" y1="236.1" x2="270.25" y2="236.1" stroke="#2a2a2a" stroke-width="0.7"/>
<line x1="265.04999999999995" y1="249.4" x2="270.25" y2="249.4" stroke="#2a2a2a" stroke-width="0.7"/>
<line x1="284.45" y1="277" x2="284.45" y2="286.2" stroke="#2a2a2a" stroke-width="0.7"/>
<line x1="281.84999999999997" y1="277" x2="287.05" y2="277" stroke="#2a2a2a" stroke-width="0.7"/>
<line x1="281.84999999999997" y1="286.2" x2="287.05" y2="286.2" stroke="#2a2a2a" stroke-width="0.7"/>
<line x1="300.85" y1="225.2" x2="300.85" y2="250.6" stroke="#2a2a2a" stroke-width="0.7"/>
<line x1="298.25" y1="225.2" x2="303.45000000000005" y2="225.2" stroke="#2a2a2a" stroke-width="0.7"/>
<line x1="298.25" y1="250.6" x2="303.45000000000005" y2="250.6" stroke="#2a2a2a" stroke-width="0.7"/>
<line x1="333.9" y1="253.3" x2="333.9" y2="268" stroke="#2a2a2a" stroke-width="0.7"/>
<line x1="331.29999999999995" y1="253.3" x2="336.5" y2="253.3" stroke="#2a2a2a" stroke-width="0.7"/>
<line x1="331.29999999999995" y1="268" x2="336.5" y2="268" stroke="#2a2a2a" stroke-width="0.7"/>
<line x1="350.4" y1="245.8" x2="350.4" y2="259.5" stroke="#2a2a2a" stroke-width="0.7"/>
<line x1="347.79999999999995" y1="245.8" x2="353.0" y2="245.8" stroke="#2a2a2a" stroke-width="0.7"/>
<line x1="347.79999999999995" y1="259.5" x2="353.0" y2="259.5" stroke="#2a2a2a" stroke-width="0.7"/>
<line x1="367.0" y1="256.5" x2="367.0" y2="268" stroke="#2a2a2a" stroke-width="0.7"/>
<line x1="364.4" y1="256.5" x2="369.6" y2="256.5" stroke="#2a2a2a" stroke-width="0.7"/>
<line x1="364.4" y1="268" x2="369.6" y2="268" stroke="#2a2a2a" stroke-width="0.7"/>
<line x1="383.6" y1="241.4" x2="383.6" y2="265" stroke="#2a2a2a" stroke-width="0.7"/>
<line x1="381.0" y1="241.4" x2="386.20000000000005" y2="241.4" stroke="#2a2a2a" stroke-width="0.7"/>
<line x1="381.0" y1="265" x2="386.20000000000005" y2="265" stroke="#2a2a2a" stroke-width="0.7"/>
<text x="276.5" y="316.1" font-size="8.15" text-anchor="middle" fill="#222" >Female</text>
<text x="355.9" y="316.1" font-size="8.15" text-anchor="middle" fill="#222" >Male</text>
<line x1="246.7" y1="179.6" x2="304.8" y2="179.6" stroke="#c4c4c4" stroke-width="1.3"/>
<text x="277" y="178.5" font-size="8.5" text-anchor="middle" fill="#111" >*</text>
<line x1="246.7" y1="192.5" x2="266.3" y2="192.5" stroke="#7f7f7f" stroke-width="1"/>
<text x="257.4" y="191.4" font-size="8.5" text-anchor="middle" fill="#111" >*</text>
<line x1="285.8" y1="192.5" x2="304.8" y2="192.5" stroke="#7f7f7f" stroke-width="1"/>
<text x="296" y="191.4" font-size="8.5" text-anchor="middle" fill="#111" >*</text>
<rect x="442.4" y="155.7" width="63.60" height="10.10" fill="url(#tg2)"/>
<text x="425.4" y="163.8" font-size="11.8" text-anchor="start" fill="#231f20" >D</text>
<text x="443.4" y="162.9" font-size="9.22" text-anchor="start" fill="#231f20" >Three-chamber social test</text>
<line x1="443.6" y1="168.1" x2="443.6" y2="309.7" stroke="#7f7f7f" stroke-width="1"/>
<text x="443.3" y="310.8218" font-size="8.9" text-anchor="end" fill="#2a2a2a" >0</text>
<text x="443.3" y="275.12179999999995" font-size="8.9" text-anchor="end" fill="#2a2a2a" >30</text>
<text x="443.3" y="239.3218" font-size="8.9" text-anchor="end" fill="#2a2a2a" >60</text>
<text x="443.3" y="203.0218" font-size="8.9" text-anchor="end" fill="#2a2a2a" >90</text>
<line x1="442.6" y1="309.4" x2="621.9" y2="309.4" stroke="#7f7f7f" stroke-width="1"/>
<text x="0" y="0" font-size="8.8" text-anchor="middle" fill="#222" transform="translate(430.2,232.2) rotate(-90)">Social Index(%)</text>
<rect x="460.90" y="227.60" width="14.00" height="81.70" fill="#acacac" />
<rect x="477.30" y="229.10" width="14.50" height="80.20" fill="#e6b4aa" />
<rect x="493.50" y="231.80" width="14.20" height="77.50" fill="#526ca0" />
<rect x="509.90" y="231.70" width="13.90" height="77.60" fill="#67a79c" />
<rect x="542.30" y="214.80" width="13.80" height="94.50" fill="#acacac" />
<rect x="558.30" y="229.10" width="14.00" height="80.20" fill="#e6b4aa" />
<rect x="574.40" y="218.80" width="14.40" height="90.50" fill="#526ca0" />
<rect x="590.70" y="235.20" width="14.30" height="74.10" fill="#67a79c" />
<circle cx="467.90" cy="209.90" r="1.25" fill="#9a9a9a" stroke="#1a1a1a" stroke-width="0.5" fill-opacity="0.55" stroke-opacity="0.65"/>
<circle cx="467.10" cy="217.00" r="1.25" fill="#9a9a9a" stroke="#1a1a1a" stroke-width="0.5" fill-opacity="0.55" stroke-opacity="0.65"/>
<circle cx="468.70" cy="217.80" r="1.25" fill="#9a9a9a" stroke="#1a1a1a" stroke-width="0.5" fill-opacity="0.55" stroke-opacity="0.65"/>
<circle cx="468.20" cy="221.00" r="1.25" fill="#9a9a9a" stroke="#1a1a1a" stroke-width="0.5" fill-opacity="0.55" stroke-opacity="0.65"/>
<circle cx="467.50" cy="223.20" r="1.25" fill="#9a9a9a" stroke="#1a1a1a" stroke-width="0.5" fill-opacity="0.55" stroke-opacity="0.65"/>
<circle cx="468.50" cy="225.60" r="1.25" fill="#9a9a9a" stroke="#1a1a1a" stroke-width="0.5" fill-opacity="0.55" stroke-opacity="0.65"/>
<circle cx="467.30" cy="233.70" r="1.25" fill="#9a9a9a" stroke="#1a1a1a" stroke-width="0.5" fill-opacity="0.55" stroke-opacity="0.65"/>
<circle cx="468.10" cy="237.60" r="1.25" fill="#9a9a9a" stroke="#1a1a1a" stroke-width="0.5" fill-opacity="0.55" stroke-opacity="0.65"/>
<circle cx="468.80" cy="238.40" r="1.25" fill="#9a9a9a" stroke="#1a1a1a" stroke-width="0.5" fill-opacity="0.55" stroke-opacity="0.65"/>
<circle cx="467.00" cy="251.10" r="1.25" fill="#9a9a9a" stroke="#1a1a1a" stroke-width="0.5" fill-opacity="0.55" stroke-opacity="0.65"/>
<circle cx="484.55" cy="205.10" r="1.25" fill="#e2a89c" stroke="#1a1a1a" stroke-width="0.5" fill-opacity="0.55" stroke-opacity="0.65"/>
<circle cx="483.75" cy="212.60" r="1.25" fill="#e2a89c" stroke="#1a1a1a" stroke-width="0.5" fill-opacity="0.55" stroke-opacity="0.65"/>
<circle cx="485.35" cy="213.50" r="1.25" fill="#e2a89c" stroke="#1a1a1a" stroke-width="0.5" fill-opacity="0.55" stroke-opacity="0.65"/>
<circle cx="484.85" cy="228.50" r="1.25" fill="#e2a89c" stroke="#1a1a1a" stroke-width="0.5" fill-opacity="0.55" stroke-opacity="0.65"/>
<circle cx="484.15" cy="229.70" r="1.25" fill="#e2a89c" stroke="#1a1a1a" stroke-width="0.5" fill-opacity="0.55" stroke-opacity="0.65"/>
<circle cx="485.15" cy="237.60" r="1.25" fill="#e2a89c" stroke="#1a1a1a" stroke-width="0.5" fill-opacity="0.55" stroke-opacity="0.65"/>
<circle cx="483.95" cy="245.60" r="1.25" fill="#e2a89c" stroke="#1a1a1a" stroke-width="0.5" fill-opacity="0.55" stroke-opacity="0.65"/>
<circle cx="484.75" cy="252.50" r="1.25" fill="#e2a89c" stroke="#1a1a1a" stroke-width="0.5" fill-opacity="0.55" stroke-opacity="0.65"/>
<circle cx="500.60" cy="212.30" r="1.25" fill="#4a68a8" stroke="#1a1a1a" stroke-width="0.5" fill-opacity="0.55" stroke-opacity="0.65"/>
<circle cx="499.80" cy="221.00" r="1.25" fill="#4a68a8" stroke="#1a1a1a" stroke-width="0.5" fill-opacity="0.55" stroke-opacity="0.65"/>
<circle cx="501.40" cy="222.20" r="1.25" fill="#4a68a8" stroke="#1a1a1a" stroke-width="0.5" fill-opacity="0.55" stroke-opacity="0.65"/>
<circle cx="500.90" cy="223.20" r="1.25" fill="#4a68a8" stroke="#1a1a1a" stroke-width="0.5" fill-opacity="0.55" stroke-opacity="0.65"/>
<circle cx="500.20" cy="225.30" r="1.25" fill="#4a68a8" stroke="#1a1a1a" stroke-width="0.5" fill-opacity="0.55" stroke-opacity="0.65"/>
<circle cx="501.20" cy="239.10" r="1.25" fill="#4a68a8" stroke="#1a1a1a" stroke-width="0.5" fill-opacity="0.55" stroke-opacity="0.65"/>
<circle cx="500.00" cy="242.00" r="1.25" fill="#4a68a8" stroke="#1a1a1a" stroke-width="0.5" fill-opacity="0.55" stroke-opacity="0.65"/>
<circle cx="500.80" cy="246.30" r="1.25" fill="#4a68a8" stroke="#1a1a1a" stroke-width="0.5" fill-opacity="0.55" stroke-opacity="0.65"/>
<circle cx="516.85" cy="217.80" r="1.25" fill="#5aa898" stroke="#1a1a1a" stroke-width="0.5" fill-opacity="0.55" stroke-opacity="0.65"/>
<circle cx="516.05" cy="220.70" r="1.25" fill="#5aa898" stroke="#1a1a1a" stroke-width="0.5" fill-opacity="0.55" stroke-opacity="0.65"/>
<circle cx="517.65" cy="222.20" r="1.25" fill="#5aa898" stroke="#1a1a1a" stroke-width="0.5" fill-opacity="0.55" stroke-opacity="0.65"/>
<circle cx="517.15" cy="227.10" r="1.25" fill="#5aa898" stroke="#1a1a1a" stroke-width="0.5" fill-opacity="0.55" stroke-opacity="0.65"/>
<circle cx="516.45" cy="229.00" r="1.25" fill="#5aa898" stroke="#1a1a1a" stroke-width="0.5" fill-opacity="0.55" stroke-opacity="0.65"/>
<circle cx="517.45" cy="232.90" r="1.25" fill="#5aa898" stroke="#1a1a1a" stroke-width="0.5" fill-opacity="0.55" stroke-opacity="0.65"/>
<circle cx="516.25" cy="238.40" r="1.25" fill="#5aa898" stroke="#1a1a1a" stroke-width="0.5" fill-opacity="0.55" stroke-opacity="0.65"/>
<circle cx="517.05" cy="242.00" r="1.25" fill="#5aa898" stroke="#1a1a1a" stroke-width="0.5" fill-opacity="0.55" stroke-opacity="0.65"/>
<circle cx="517.75" cy="261.50" r="1.25" fill="#5aa898" stroke="#1a1a1a" stroke-width="0.5" fill-opacity="0.55" stroke-opacity="0.65"/>
<circle cx="549.20" cy="209.20" r="1.25" fill="#9a9a9a" stroke="#1a1a1a" stroke-width="0.5" fill-opacity="0.55" stroke-opacity="0.65"/>
<circle cx="548.40" cy="210.60" r="1.25" fill="#9a9a9a" stroke="#1a1a1a" stroke-width="0.5" fill-opacity="0.55" stroke-opacity="0.65"/>
<circle cx="550.00" cy="212.10" r="1.25" fill="#9a9a9a" stroke="#1a1a1a" stroke-width="0.5" fill-opacity="0.55" stroke-opacity="0.65"/>
<circle cx="549.50" cy="213.50" r="1.25" fill="#9a9a9a" stroke="#1a1a1a" stroke-width="0.5" fill-opacity="0.55" stroke-opacity="0.65"/>
<circle cx="548.80" cy="215.00" r="1.25" fill="#9a9a9a" stroke="#1a1a1a" stroke-width="0.5" fill-opacity="0.55" stroke-opacity="0.65"/>
<circle cx="549.80" cy="216.40" r="1.25" fill="#9a9a9a" stroke="#1a1a1a" stroke-width="0.5" fill-opacity="0.55" stroke-opacity="0.65"/>
<circle cx="548.60" cy="217.80" r="1.25" fill="#9a9a9a" stroke="#1a1a1a" stroke-width="0.5" fill-opacity="0.55" stroke-opacity="0.65"/>
<circle cx="549.40" cy="219.30" r="1.25" fill="#9a9a9a" stroke="#1a1a1a" stroke-width="0.5" fill-opacity="0.55" stroke-opacity="0.65"/>
<circle cx="565.30" cy="200.80" r="1.25" fill="#e2a89c" stroke="#1a1a1a" stroke-width="0.5" fill-opacity="0.55" stroke-opacity="0.65"/>
<circle cx="564.50" cy="209.50" r="1.25" fill="#e2a89c" stroke="#1a1a1a" stroke-width="0.5" fill-opacity="0.55" stroke-opacity="0.65"/>
<circle cx="566.10" cy="220.30" r="1.25" fill="#e2a89c" stroke="#1a1a1a" stroke-width="0.5" fill-opacity="0.55" stroke-opacity="0.65"/>
<circle cx="565.60" cy="229.70" r="1.25" fill="#e2a89c" stroke="#1a1a1a" stroke-width="0.5" fill-opacity="0.55" stroke-opacity="0.65"/>
<circle cx="564.90" cy="232.90" r="1.25" fill="#e2a89c" stroke="#1a1a1a" stroke-width="0.5" fill-opacity="0.55" stroke-opacity="0.65"/>
<circle cx="565.90" cy="239.10" r="1.25" fill="#e2a89c" stroke="#1a1a1a" stroke-width="0.5" fill-opacity="0.55" stroke-opacity="0.65"/>
<circle cx="564.70" cy="240.50" r="1.25" fill="#e2a89c" stroke="#1a1a1a" stroke-width="0.5" fill-opacity="0.55" stroke-opacity="0.65"/>
<circle cx="565.50" cy="242.00" r="1.25" fill="#e2a89c" stroke="#1a1a1a" stroke-width="0.5" fill-opacity="0.55" stroke-opacity="0.65"/>
<circle cx="566.20" cy="244.20" r="1.25" fill="#e2a89c" stroke="#1a1a1a" stroke-width="0.5" fill-opacity="0.55" stroke-opacity="0.65"/>
<circle cx="581.60" cy="204.80" r="1.25" fill="#4a68a8" stroke="#1a1a1a" stroke-width="0.5" fill-opacity="0.55" stroke-opacity="0.65"/>
<circle cx="580.80" cy="209.50" r="1.25" fill="#4a68a8" stroke="#1a1a1a" stroke-width="0.5" fill-opacity="0.55" stroke-opacity="0.65"/>
<circle cx="582.40" cy="210.20" r="1.25" fill="#4a68a8" stroke="#1a1a1a" stroke-width="0.5" fill-opacity="0.55" stroke-opacity="0.65"/>
<circle cx="581.90" cy="213.80" r="1.25" fill="#4a68a8" stroke="#1a1a1a" stroke-width="0.5" fill-opacity="0.55" stroke-opacity="0.65"/>
<circle cx="581.20" cy="216.70" r="1.25" fill="#4a68a8" stroke="#1a1a1a" stroke-width="0.5" fill-opacity="0.55" stroke-opacity="0.65"/>
<circle cx="582.20" cy="218.90" r="1.25" fill="#4a68a8" stroke="#1a1a1a" stroke-width="0.5" fill-opacity="0.55" stroke-opacity="0.65"/>
<circle cx="581.00" cy="221.00" r="1.25" fill="#4a68a8" stroke="#1a1a1a" stroke-width="0.5" fill-opacity="0.55" stroke-opacity="0.65"/>
<circle cx="581.80" cy="222.80" r="1.25" fill="#4a68a8" stroke="#1a1a1a" stroke-width="0.5" fill-opacity="0.55" stroke-opacity="0.65"/>
<circle cx="582.50" cy="229.70" r="1.25" fill="#4a68a8" stroke="#1a1a1a" stroke-width="0.5" fill-opacity="0.55" stroke-opacity="0.65"/>
<circle cx="580.70" cy="237.20" r="1.25" fill="#4a68a8" stroke="#1a1a1a" stroke-width="0.5" fill-opacity="0.55" stroke-opacity="0.65"/>
<circle cx="597.85" cy="216.00" r="1.25" fill="#5aa898" stroke="#1a1a1a" stroke-width="0.5" fill-opacity="0.55" stroke-opacity="0.65"/>
<circle cx="597.05" cy="220.70" r="1.25" fill="#5aa898" stroke="#1a1a1a" stroke-width="0.5" fill-opacity="0.55" stroke-opacity="0.65"/>
<circle cx="598.65" cy="233.70" r="1.25" fill="#5aa898" stroke="#1a1a1a" stroke-width="0.5" fill-opacity="0.55" stroke-opacity="0.65"/>
<circle cx="598.15" cy="236.90" r="1.25" fill="#5aa898" stroke="#1a1a1a" stroke-width="0.5" fill-opacity="0.55" stroke-opacity="0.65"/>
<circle cx="597.45" cy="238.40" r="1.25" fill="#5aa898" stroke="#1a1a1a" stroke-width="0.5" fill-opacity="0.55" stroke-opacity="0.65"/>
<circle cx="598.45" cy="241.30" r="1.25" fill="#5aa898" stroke="#1a1a1a" stroke-width="0.5" fill-opacity="0.55" stroke-opacity="0.65"/>
<circle cx="597.25" cy="249.20" r="1.25" fill="#5aa898" stroke="#1a1a1a" stroke-width="0.5" fill-opacity="0.55" stroke-opacity="0.65"/>
<line x1="467.9" y1="222.9" x2="467.9" y2="231.1" stroke="#2a2a2a" stroke-width="0.7"/>
<line x1="465.29999999999995" y1="222.9" x2="470.5" y2="222.9" stroke="#2a2a2a" stroke-width="0.7"/>
<line x1="465.29999999999995" y1="231.1" x2="470.5" y2="231.1" stroke="#2a2a2a" stroke-width="0.7"/>
<line x1="484.55" y1="224.3" x2="484.55" y2="233.3" stroke="#2a2a2a" stroke-width="0.7"/>
<line x1="481.95" y1="224.3" x2="487.15000000000003" y2="224.3" stroke="#2a2a2a" stroke-width="0.7"/>
<line x1="481.95" y1="233.3" x2="487.15000000000003" y2="233.3" stroke="#2a2a2a" stroke-width="0.7"/>
<line x1="500.6" y1="228.2" x2="500.6" y2="235.5" stroke="#2a2a2a" stroke-width="0.7"/>
<line x1="498.0" y1="228.2" x2="503.20000000000005" y2="228.2" stroke="#2a2a2a" stroke-width="0.7"/>
<line x1="498.0" y1="235.5" x2="503.20000000000005" y2="235.5" stroke="#2a2a2a" stroke-width="0.7"/>
<line x1="516.8499999999999" y1="227.1" x2="516.8499999999999" y2="235.5" stroke="#2a2a2a" stroke-width="0.7"/>
<line x1="514.2499999999999" y1="227.1" x2="519.4499999999999" y2="227.1" stroke="#2a2a2a" stroke-width="0.7"/>
<line x1="514.2499999999999" y1="235.5" x2="519.4499999999999" y2="235.5" stroke="#2a2a2a" stroke-width="0.7"/>
<line x1="549.2" y1="212.3" x2="549.2" y2="217.4" stroke="#2a2a2a" stroke-width="0.7"/>
<line x1="546.6" y1="212.3" x2="551.8000000000001" y2="212.3" stroke="#2a2a2a" stroke-width="0.7"/>
<line x1="546.6" y1="217.4" x2="551.8000000000001" y2="217.4" stroke="#2a2a2a" stroke-width="0.7"/>
<line x1="565.3" y1="224.3" x2="565.3" y2="233.3" stroke="#2a2a2a" stroke-width="0.7"/>
<line x1="562.6999999999999" y1="224.3" x2="567.9" y2="224.3" stroke="#2a2a2a" stroke-width="0.7"/>
<line x1="562.6999999999999" y1="233.3" x2="567.9" y2="233.3" stroke="#2a2a2a" stroke-width="0.7"/>
<line x1="581.5999999999999" y1="216" x2="581.5999999999999" y2="223.2" stroke="#2a2a2a" stroke-width="0.7"/>
<line x1="578.9999999999999" y1="216" x2="584.1999999999999" y2="216" stroke="#2a2a2a" stroke-width="0.7"/>
<line x1="578.9999999999999" y1="223.2" x2="584.1999999999999" y2="223.2" stroke="#2a2a2a" stroke-width="0.7"/>
<line x1="597.85" y1="232.6" x2="597.85" y2="238.4" stroke="#2a2a2a" stroke-width="0.7"/>
<line x1="595.25" y1="232.6" x2="600.45" y2="232.6" stroke="#2a2a2a" stroke-width="0.7"/>
<line x1="595.25" y1="238.4" x2="600.45" y2="238.4" stroke="#2a2a2a" stroke-width="0.7"/>
<text x="492.6" y="317.6" font-size="8.15" text-anchor="middle" fill="#222" >Female</text>
<text x="570.2" y="317.6" font-size="8.15" text-anchor="middle" fill="#222" >Male</text>
<line x1="545.5" y1="183.4" x2="601.5" y2="183.4" stroke="#7f7f7f" stroke-width="1"/>
<text x="575.4" y="182.3" font-size="8.5" text-anchor="middle" fill="#111" >***</text>
<line x1="545.5" y1="195.2" x2="563.6" y2="195.2" stroke="#7f7f7f" stroke-width="1"/>
<text x="555.4" y="194.1" font-size="8.5" text-anchor="middle" fill="#111" >*</text>
<line x1="583" y1="195.2" x2="601.5" y2="195.2" stroke="#7f7f7f" stroke-width="1"/>
<text x="593" y="194.1" font-size="8.5" text-anchor="middle" fill="#111" >**</text>
<rect x="635.20" y="286.00" width="10.60" height="10.60" fill="#acacac" />
<circle cx="640.60" cy="291.30" r="2.5" fill="#acacac" stroke="#333" stroke-width="0.6" fill-opacity="1" stroke-opacity="1"/>
<text x="651" y="294.4" font-size="8.05" text-anchor="start" fill="#222" >WT+PBS</text>
<rect x="635.20" y="298.00" width="10.60" height="10.60" fill="#e6b4aa" />
<circle cx="640.60" cy="303.30" r="2.5" fill="#e6b4aa" stroke="#333" stroke-width="0.6" fill-opacity="1" stroke-opacity="1"/>
<text x="651" y="306.4" font-size="8.05" text-anchor="start" fill="#222" >WT+MIA</text>
<rect x="635.20" y="310.00" width="10.60" height="10.60" fill="#526ca0" />
<circle cx="640.60" cy="315.30" r="2.5" fill="#526ca0" stroke="#333" stroke-width="0.6" fill-opacity="1" stroke-opacity="1"/>
<text x="651" y="318.4" font-size="8.05" text-anchor="start" fill="#222" >KO+PBS</text>
<rect x="635.20" y="322.10" width="10.60" height="10.60" fill="#67a79c" />
<circle cx="640.60" cy="327.40" r="2.5" fill="#67a79c" stroke="#333" stroke-width="0.6" fill-opacity="1" stroke-opacity="1"/>
<text x="651" y="330.5" font-size="8.05" text-anchor="start" fill="#222" >KO+MIA</text>
<rect x="23" y="321.3" width="63.00" height="9.80" fill="url(#tg3)"/>
<text x="7.4" y="331.8" font-size="11.8" text-anchor="start" fill="#231f20" >E</text>
<text x="23.7" y="328.8" font-size="9.22" text-anchor="start" fill="#231f20" >Open field test</text>
<line x1="24.3" y1="333.6" x2="24.3" y2="474.9" stroke="#7f7f7f" stroke-width="1"/>
<line x1="22.7" y1="474.4" x2="24.3" y2="474.4" stroke="#7f7f7f" stroke-width="0.9"/>
<text x="22.9" y="475.8856" font-size="8.8" text-anchor="end" fill="#2a2a2a" >0</text>
<line x1="22.7" y1="437.5" x2="24.3" y2="437.5" stroke="#7f7f7f" stroke-width="0.9"/>
<text x="22.9" y="438.98560000000003" font-size="8.8" text-anchor="end" fill="#2a2a2a" >5</text>
<line x1="22.7" y1="400.59999999999997" x2="24.3" y2="400.59999999999997" stroke="#7f7f7f" stroke-width="0.9"/>
<text x="22.9" y="401.3856" font-size="8.8" text-anchor="end" fill="#2a2a2a" >10</text>
<line x1="22.7" y1="363.7" x2="24.3" y2="363.7" stroke="#7f7f7f" stroke-width="0.9"/>
<text x="22.9" y="364.98560000000003" font-size="8.8" text-anchor="end" fill="#2a2a2a" >15</text>
<line x1="23.3" y1="474.85" x2="209.3" y2="474.85" stroke="#bdbdbd" stroke-width="1.6"/>
<text x="0" y="0" font-size="9.0" text-anchor="middle" fill="#222" transform="translate(12.3,394.4) rotate(-90)">Time in Center(%)</text>
<rect x="42.40" y="423.30" width="14.50" height="51.40" fill="#acacac" />
<rect x="59.30" y="425.40" width="14.50" height="49.30" fill="#e6b4aa" />
<rect x="76.10" y="424.30" width="14.50" height="50.40" fill="#526ca0" />
<rect x="93.00" y="435.10" width="14.50" height="39.60" fill="#67a79c" />
<rect x="126.20" y="401.00" width="14.80" height="73.70" fill="#acacac" />
<rect x="143.10" y="404.70" width="14.90" height="70.00" fill="#e6b4aa" />
<rect x="160.00" y="412.50" width="14.70" height="62.20" fill="#526ca0" />
<rect x="176.80" y="438.20" width="15.30" height="36.50" fill="#67a79c" />
<circle cx="49.65" cy="403.30" r="1.25" fill="#9a9a9a" stroke="#1a1a1a" stroke-width="0.5" fill-opacity="0.55" stroke-opacity="0.65"/>
<circle cx="48.85" cy="403.70" r="1.25" fill="#9a9a9a" stroke="#1a1a1a" stroke-width="0.5" fill-opacity="0.55" stroke-opacity="0.65"/>
<circle cx="50.45" cy="410.50" r="1.25" fill="#9a9a9a" stroke="#1a1a1a" stroke-width="0.5" fill-opacity="0.55" stroke-opacity="0.65"/>
<circle cx="49.95" cy="419.60" r="1.25" fill="#9a9a9a" stroke="#1a1a1a" stroke-width="0.5" fill-opacity="0.55" stroke-opacity="0.65"/>
<circle cx="49.25" cy="420.60" r="1.25" fill="#9a9a9a" stroke="#1a1a1a" stroke-width="0.5" fill-opacity="0.55" stroke-opacity="0.65"/>
<circle cx="50.25" cy="421.50" r="1.25" fill="#9a9a9a" stroke="#1a1a1a" stroke-width="0.5" fill-opacity="0.55" stroke-opacity="0.65"/>
<circle cx="49.05" cy="427.90" r="1.25" fill="#9a9a9a" stroke="#1a1a1a" stroke-width="0.5" fill-opacity="0.55" stroke-opacity="0.65"/>
<circle cx="49.85" cy="432.60" r="1.25" fill="#9a9a9a" stroke="#1a1a1a" stroke-width="0.5" fill-opacity="0.55" stroke-opacity="0.65"/>
<circle cx="50.55" cy="434.10" r="1.25" fill="#9a9a9a" stroke="#1a1a1a" stroke-width="0.5" fill-opacity="0.55" stroke-opacity="0.65"/>
<circle cx="48.75" cy="437.00" r="1.25" fill="#9a9a9a" stroke="#1a1a1a" stroke-width="0.5" fill-opacity="0.55" stroke-opacity="0.65"/>
<circle cx="66.55" cy="400.80" r="1.25" fill="#e2a89c" stroke="#1a1a1a" stroke-width="0.5" fill-opacity="0.55" stroke-opacity="0.65"/>
<circle cx="65.75" cy="405.60" r="1.25" fill="#e2a89c" stroke="#1a1a1a" stroke-width="0.5" fill-opacity="0.55" stroke-opacity="0.65"/>
<circle cx="67.35" cy="410.50" r="1.25" fill="#e2a89c" stroke="#1a1a1a" stroke-width="0.5" fill-opacity="0.55" stroke-opacity="0.65"/>
<circle cx="66.85" cy="427.90" r="1.25" fill="#e2a89c" stroke="#1a1a1a" stroke-width="0.5" fill-opacity="0.55" stroke-opacity="0.65"/>
<circle cx="66.15" cy="429.00" r="1.25" fill="#e2a89c" stroke="#1a1a1a" stroke-width="0.5" fill-opacity="0.55" stroke-opacity="0.65"/>
<circle cx="67.15" cy="429.70" r="1.25" fill="#e2a89c" stroke="#1a1a1a" stroke-width="0.5" fill-opacity="0.55" stroke-opacity="0.65"/>
<circle cx="65.95" cy="437.70" r="1.25" fill="#e2a89c" stroke="#1a1a1a" stroke-width="0.5" fill-opacity="0.55" stroke-opacity="0.65"/>
<circle cx="66.75" cy="439.10" r="1.25" fill="#e2a89c" stroke="#1a1a1a" stroke-width="0.5" fill-opacity="0.55" stroke-opacity="0.65"/>
<circle cx="67.45" cy="441.30" r="1.25" fill="#e2a89c" stroke="#1a1a1a" stroke-width="0.5" fill-opacity="0.55" stroke-opacity="0.65"/>
<circle cx="83.35" cy="402.70" r="1.25" fill="#4a68a8" stroke="#1a1a1a" stroke-width="0.5" fill-opacity="0.55" stroke-opacity="0.65"/>
<circle cx="82.55" cy="412.80" r="1.25" fill="#4a68a8" stroke="#1a1a1a" stroke-width="0.5" fill-opacity="0.55" stroke-opacity="0.65"/>
<circle cx="84.15" cy="423.20" r="1.25" fill="#4a68a8" stroke="#1a1a1a" stroke-width="0.5" fill-opacity="0.55" stroke-opacity="0.65"/>
<circle cx="83.65" cy="425.00" r="1.25" fill="#4a68a8" stroke="#1a1a1a" stroke-width="0.5" fill-opacity="0.55" stroke-opacity="0.65"/>
<circle cx="82.95" cy="427.30" r="1.25" fill="#4a68a8" stroke="#1a1a1a" stroke-width="0.5" fill-opacity="0.55" stroke-opacity="0.65"/>
<circle cx="83.95" cy="428.70" r="1.25" fill="#4a68a8" stroke="#1a1a1a" stroke-width="0.5" fill-opacity="0.55" stroke-opacity="0.65"/>
<circle cx="82.75" cy="430.20" r="1.25" fill="#4a68a8" stroke="#1a1a1a" stroke-width="0.5" fill-opacity="0.55" stroke-opacity="0.65"/>
<circle cx="83.55" cy="431.90" r="1.25" fill="#4a68a8" stroke="#1a1a1a" stroke-width="0.5" fill-opacity="0.55" stroke-opacity="0.65"/>
<circle cx="84.25" cy="434.80" r="1.25" fill="#4a68a8" stroke="#1a1a1a" stroke-width="0.5" fill-opacity="0.55" stroke-opacity="0.65"/>
<circle cx="100.25" cy="421.50" r="1.25" fill="#5aa898" stroke="#1a1a1a" stroke-width="0.5" fill-opacity="0.55" stroke-opacity="0.65"/>
<circle cx="99.45" cy="424.40" r="1.25" fill="#5aa898" stroke="#1a1a1a" stroke-width="0.5" fill-opacity="0.55" stroke-opacity="0.65"/>
<circle cx="101.05" cy="429.00" r="1.25" fill="#5aa898" stroke="#1a1a1a" stroke-width="0.5" fill-opacity="0.55" stroke-opacity="0.65"/>
<circle cx="100.55" cy="431.20" r="1.25" fill="#5aa898" stroke="#1a1a1a" stroke-width="0.5" fill-opacity="0.55" stroke-opacity="0.65"/>
<circle cx="99.85" cy="432.20" r="1.25" fill="#5aa898" stroke="#1a1a1a" stroke-width="0.5" fill-opacity="0.55" stroke-opacity="0.65"/>
<circle cx="100.85" cy="433.40" r="1.25" fill="#5aa898" stroke="#1a1a1a" stroke-width="0.5" fill-opacity="0.55" stroke-opacity="0.65"/>
<circle cx="99.65" cy="440.90" r="1.25" fill="#5aa898" stroke="#1a1a1a" stroke-width="0.5" fill-opacity="0.55" stroke-opacity="0.65"/>
<circle cx="100.45" cy="449.00" r="1.25" fill="#5aa898" stroke="#1a1a1a" stroke-width="0.5" fill-opacity="0.55" stroke-opacity="0.65"/>
<circle cx="101.15" cy="454.30" r="1.25" fill="#5aa898" stroke="#1a1a1a" stroke-width="0.5" fill-opacity="0.55" stroke-opacity="0.65"/>
<circle cx="133.60" cy="365.10" r="1.25" fill="#9a9a9a" stroke="#1a1a1a" stroke-width="0.5" fill-opacity="0.55" stroke-opacity="0.65"/>
<circle cx="132.80" cy="369.00" r="1.25" fill="#9a9a9a" stroke="#1a1a1a" stroke-width="0.5" fill-opacity="0.55" stroke-opacity="0.65"/>
<circle cx="134.40" cy="372.90" r="1.25" fill="#9a9a9a" stroke="#1a1a1a" stroke-width="0.5" fill-opacity="0.55" stroke-opacity="0.65"/>
<circle cx="133.90" cy="406.00" r="1.25" fill="#9a9a9a" stroke="#1a1a1a" stroke-width="0.5" fill-opacity="0.55" stroke-opacity="0.65"/>
<circle cx="133.20" cy="408.30" r="1.25" fill="#9a9a9a" stroke="#1a1a1a" stroke-width="0.5" fill-opacity="0.55" stroke-opacity="0.65"/>
<circle cx="134.20" cy="408.80" r="1.25" fill="#9a9a9a" stroke="#1a1a1a" stroke-width="0.5" fill-opacity="0.55" stroke-opacity="0.65"/>
<circle cx="133.00" cy="417.20" r="1.25" fill="#9a9a9a" stroke="#1a1a1a" stroke-width="0.5" fill-opacity="0.55" stroke-opacity="0.65"/>
<circle cx="133.80" cy="423.70" r="1.25" fill="#9a9a9a" stroke="#1a1a1a" stroke-width="0.5" fill-opacity="0.55" stroke-opacity="0.65"/>
<circle cx="150.55" cy="394.00" r="1.25" fill="#e2a89c" stroke="#1a1a1a" stroke-width="0.5" fill-opacity="0.55" stroke-opacity="0.65"/>
<circle cx="149.75" cy="395.80" r="1.25" fill="#e2a89c" stroke="#1a1a1a" stroke-width="0.5" fill-opacity="0.55" stroke-opacity="0.65"/>
<circle cx="151.35" cy="397.70" r="1.25" fill="#e2a89c" stroke="#1a1a1a" stroke-width="0.5" fill-opacity="0.55" stroke-opacity="0.65"/>
<circle cx="150.85" cy="399.50" r="1.25" fill="#e2a89c" stroke="#1a1a1a" stroke-width="0.5" fill-opacity="0.55" stroke-opacity="0.65"/>
<circle cx="150.15" cy="401.40" r="1.25" fill="#e2a89c" stroke="#1a1a1a" stroke-width="0.5" fill-opacity="0.55" stroke-opacity="0.65"/>
<circle cx="151.15" cy="403.30" r="1.25" fill="#e2a89c" stroke="#1a1a1a" stroke-width="0.5" fill-opacity="0.55" stroke-opacity="0.65"/>
<circle cx="149.95" cy="405.10" r="1.25" fill="#e2a89c" stroke="#1a1a1a" stroke-width="0.5" fill-opacity="0.55" stroke-opacity="0.65"/>
<circle cx="150.75" cy="407.90" r="1.25" fill="#e2a89c" stroke="#1a1a1a" stroke-width="0.5" fill-opacity="0.55" stroke-opacity="0.65"/>
<circle cx="151.45" cy="414.40" r="1.25" fill="#e2a89c" stroke="#1a1a1a" stroke-width="0.5" fill-opacity="0.55" stroke-opacity="0.65"/>
<circle cx="149.65" cy="420.90" r="1.25" fill="#e2a89c" stroke="#1a1a1a" stroke-width="0.5" fill-opacity="0.55" stroke-opacity="0.65"/>
<circle cx="167.35" cy="392.10" r="1.25" fill="#4a68a8" stroke="#1a1a1a" stroke-width="0.5" fill-opacity="0.55" stroke-opacity="0.65"/>
<circle cx="166.55" cy="394.90" r="1.25" fill="#4a68a8" stroke="#1a1a1a" stroke-width="0.5" fill-opacity="0.55" stroke-opacity="0.65"/>
<circle cx="168.15" cy="396.70" r="1.25" fill="#4a68a8" stroke="#1a1a1a" stroke-width="0.5" fill-opacity="0.55" stroke-opacity="0.65"/>
<circle cx="167.65" cy="403.30" r="1.25" fill="#4a68a8" stroke="#1a1a1a" stroke-width="0.5" fill-opacity="0.55" stroke-opacity="0.65"/>
<circle cx="166.95" cy="407.90" r="1.25" fill="#4a68a8" stroke="#1a1a1a" stroke-width="0.5" fill-opacity="0.55" stroke-opacity="0.65"/>
<circle cx="167.95" cy="416.30" r="1.25" fill="#4a68a8" stroke="#1a1a1a" stroke-width="0.5" fill-opacity="0.55" stroke-opacity="0.65"/>
<circle cx="166.75" cy="426.50" r="1.25" fill="#4a68a8" stroke="#1a1a1a" stroke-width="0.5" fill-opacity="0.55" stroke-opacity="0.65"/>
<circle cx="167.55" cy="435.40" r="1.25" fill="#4a68a8" stroke="#1a1a1a" stroke-width="0.5" fill-opacity="0.55" stroke-opacity="0.65"/>
<circle cx="168.25" cy="439.90" r="1.25" fill="#4a68a8" stroke="#1a1a1a" stroke-width="0.5" fill-opacity="0.55" stroke-opacity="0.65"/>
<circle cx="184.45" cy="417.20" r="1.25" fill="#5aa898" stroke="#1a1a1a" stroke-width="0.5" fill-opacity="0.55" stroke-opacity="0.65"/>
<circle cx="183.65" cy="419.10" r="1.25" fill="#5aa898" stroke="#1a1a1a" stroke-width="0.5" fill-opacity="0.55" stroke-opacity="0.65"/>
<circle cx="185.25" cy="424.70" r="1.25" fill="#5aa898" stroke="#1a1a1a" stroke-width="0.5" fill-opacity="0.55" stroke-opacity="0.65"/>
<circle cx="184.75" cy="434.00" r="1.25" fill="#5aa898" stroke="#1a1a1a" stroke-width="0.5" fill-opacity="0.55" stroke-opacity="0.65"/>
<circle cx="184.05" cy="436.70" r="1.25" fill="#5aa898" stroke="#1a1a1a" stroke-width="0.5" fill-opacity="0.55" stroke-opacity="0.65"/>
<circle cx="185.05" cy="439.50" r="1.25" fill="#5aa898" stroke="#1a1a1a" stroke-width="0.5" fill-opacity="0.55" stroke-opacity="0.65"/>
<circle cx="183.85" cy="445.10" r="1.25" fill="#5aa898" stroke="#1a1a1a" stroke-width="0.5" fill-opacity="0.55" stroke-opacity="0.65"/>
<circle cx="184.65" cy="449.80" r="1.25" fill="#5aa898" stroke="#1a1a1a" stroke-width="0.5" fill-opacity="0.55" stroke-opacity="0.65"/>
<circle cx="185.35" cy="456.30" r="1.25" fill="#5aa898" stroke="#1a1a1a" stroke-width="0.5" fill-opacity="0.55" stroke-opacity="0.65"/>
<line x1="49.65" y1="418.9" x2="49.65" y2="427.6" stroke="#2a2a2a" stroke-width="0.7"/>
<line x1="47.05" y1="418.9" x2="52.25" y2="418.9" stroke="#2a2a2a" stroke-width="0.7"/>
<line x1="47.05" y1="427.6" x2="52.25" y2="427.6" stroke="#2a2a2a" stroke-width="0.7"/>
<line x1="66.55" y1="420.6" x2="66.55" y2="429.7" stroke="#2a2a2a" stroke-width="0.7"/>
<line x1="63.949999999999996" y1="420.6" x2="69.14999999999999" y2="420.6" stroke="#2a2a2a" stroke-width="0.7"/>
<line x1="63.949999999999996" y1="429.7" x2="69.14999999999999" y2="429.7" stroke="#2a2a2a" stroke-width="0.7"/>
<line x1="83.35" y1="420.6" x2="83.35" y2="427.3" stroke="#2a2a2a" stroke-width="0.7"/>
<line x1="80.75" y1="420.6" x2="85.94999999999999" y2="420.6" stroke="#2a2a2a" stroke-width="0.7"/>
<line x1="80.75" y1="427.3" x2="85.94999999999999" y2="427.3" stroke="#2a2a2a" stroke-width="0.7"/>
<line x1="100.25" y1="431.2" x2="100.25" y2="438" stroke="#2a2a2a" stroke-width="0.7"/>
<line x1="97.65" y1="431.2" x2="102.85" y2="431.2" stroke="#2a2a2a" stroke-width="0.7"/>
<line x1="97.65" y1="438" x2="102.85" y2="438" stroke="#2a2a2a" stroke-width="0.7"/>
<line x1="133.6" y1="393.4" x2="133.6" y2="408.6" stroke="#2a2a2a" stroke-width="0.7"/>
<line x1="131.0" y1="393.4" x2="136.2" y2="393.4" stroke="#2a2a2a" stroke-width="0.7"/>
<line x1="131.0" y1="408.6" x2="136.2" y2="408.6" stroke="#2a2a2a" stroke-width="0.7"/>
<line x1="150.55" y1="402.4" x2="150.55" y2="407.6" stroke="#2a2a2a" stroke-width="0.7"/>
<line x1="147.95000000000002" y1="402.4" x2="153.15" y2="402.4" stroke="#2a2a2a" stroke-width="0.7"/>
<line x1="147.95000000000002" y1="407.6" x2="153.15" y2="407.6" stroke="#2a2a2a" stroke-width="0.7"/>
<line x1="167.35" y1="407.5" x2="167.35" y2="417" stroke="#2a2a2a" stroke-width="0.7"/>
<line x1="164.75" y1="407.5" x2="169.95" y2="407.5" stroke="#2a2a2a" stroke-width="0.7"/>
<line x1="164.75" y1="417" x2="169.95" y2="417" stroke="#2a2a2a" stroke-width="0.7"/>
<line x1="184.45" y1="434" x2="184.45" y2="442" stroke="#2a2a2a" stroke-width="0.7"/>
<line x1="181.85" y1="434" x2="187.04999999999998" y2="434" stroke="#2a2a2a" stroke-width="0.7"/>
<line x1="181.85" y1="442" x2="187.04999999999998" y2="442" stroke="#2a2a2a" stroke-width="0.7"/>
<text x="75.4" y="482.9" font-size="8.15" text-anchor="middle" fill="#222" >Female</text>
<text x="156.5" y="482.9" font-size="8.15" text-anchor="middle" fill="#222" >Male</text>
<line x1="129.5" y1="351.3" x2="188.8" y2="351.3" stroke="#7f7f7f" stroke-width="1"/>
<text x="158.9" y="350.2" font-size="8.5" text-anchor="middle" fill="#111" >*</text>
<line x1="149" y1="363.1" x2="188.8" y2="363.1" stroke="#7f7f7f" stroke-width="1"/>
<text x="169.8" y="362.0" font-size="8.5" text-anchor="middle" fill="#111" >*</text>
<line x1="168.8" y1="374.4" x2="188.8" y2="374.4" stroke="#7f7f7f" stroke-width="1"/>
<text x="180.2" y="373.29999999999995" font-size="8.5" text-anchor="middle" fill="#111" >**</text>
<line x1="226.3" y1="331.4" x2="226.3" y2="474.9" stroke="#7f7f7f" stroke-width="1"/>
<line x1="224.70000000000002" y1="474.4" x2="226.3" y2="474.4" stroke="#7f7f7f" stroke-width="0.9"/>
<text x="224.8" y="475.98560000000003" font-size="8.8" text-anchor="end" fill="#2a2a2a" >0</text>
<line x1="224.70000000000002" y1="444.9" x2="226.3" y2="444.9" stroke="#7f7f7f" stroke-width="0.9"/>
<text x="224.8" y="446.78560000000004" font-size="8.8" text-anchor="end" fill="#2a2a2a" >5</text>
<line x1="224.70000000000002" y1="415.4" x2="226.3" y2="415.4" stroke="#7f7f7f" stroke-width="0.9"/>
<text x="224.8" y="416.3856" font-size="8.8" text-anchor="end" fill="#2a2a2a" >10</text>
<line x1="224.70000000000002" y1="385.9" x2="226.3" y2="385.9" stroke="#7f7f7f" stroke-width="0.9"/>
<text x="224.8" y="387.28560000000004" font-size="8.8" text-anchor="end" fill="#2a2a2a" >15</text>
<line x1="224.70000000000002" y1="356.4" x2="226.3" y2="356.4" stroke="#7f7f7f" stroke-width="0.9"/>
<text x="224.8" y="357.78560000000004" font-size="8.8" text-anchor="end" fill="#2a2a2a" >20</text>
<line x1="225.3" y1="474.85" x2="413.6" y2="474.85" stroke="#bdbdbd" stroke-width="1.6"/>
<text x="0" y="0" font-size="8.55" text-anchor="middle" fill="#222" transform="translate(211.7,399.1) rotate(-90)">Distance in Center(%)</text>
<rect x="244.30" y="404.80" width="14.80" height="69.90" fill="#acacac" />
<rect x="260.90" y="404.10" width="15.20" height="70.60" fill="#e6b4aa" />
<rect x="278.40" y="404.80" width="14.80" height="69.90" fill="#526ca0" />
<rect x="295.90" y="414.80" width="14.10" height="59.90" fill="#67a79c" />
<rect x="329.30" y="399.80" width="15.30" height="74.90" fill="#acacac" />
<rect x="346.40" y="400.10" width="14.80" height="74.60" fill="#e6b4aa" />
<rect x="363.50" y="401.10" width="14.90" height="73.60" fill="#526ca0" />
<rect x="380.60" y="421.20" width="14.90" height="53.50" fill="#67a79c" />
<circle cx="251.70" cy="398.10" r="1.25" fill="#9a9a9a" stroke="#1a1a1a" stroke-width="0.5" fill-opacity="0.55" stroke-opacity="0.65"/>
<circle cx="250.90" cy="399.10" r="1.25" fill="#9a9a9a" stroke="#1a1a1a" stroke-width="0.5" fill-opacity="0.55" stroke-opacity="0.65"/>
<circle cx="252.50" cy="403.10" r="1.25" fill="#9a9a9a" stroke="#1a1a1a" stroke-width="0.5" fill-opacity="0.55" stroke-opacity="0.65"/>
<circle cx="252.00" cy="405.30" r="1.25" fill="#9a9a9a" stroke="#1a1a1a" stroke-width="0.5" fill-opacity="0.55" stroke-opacity="0.65"/>
<circle cx="251.30" cy="406.70" r="1.25" fill="#9a9a9a" stroke="#1a1a1a" stroke-width="0.5" fill-opacity="0.55" stroke-opacity="0.65"/>
<circle cx="252.30" cy="408.90" r="1.25" fill="#9a9a9a" stroke="#1a1a1a" stroke-width="0.5" fill-opacity="0.55" stroke-opacity="0.65"/>
<circle cx="251.10" cy="411.10" r="1.25" fill="#9a9a9a" stroke="#1a1a1a" stroke-width="0.5" fill-opacity="0.55" stroke-opacity="0.65"/>
<circle cx="268.50" cy="386.50" r="1.25" fill="#e2a89c" stroke="#1a1a1a" stroke-width="0.5" fill-opacity="0.55" stroke-opacity="0.65"/>
<circle cx="267.70" cy="392.30" r="1.25" fill="#e2a89c" stroke="#1a1a1a" stroke-width="0.5" fill-opacity="0.55" stroke-opacity="0.65"/>
<circle cx="269.30" cy="395.90" r="1.25" fill="#e2a89c" stroke="#1a1a1a" stroke-width="0.5" fill-opacity="0.55" stroke-opacity="0.65"/>
<circle cx="268.80" cy="401.70" r="1.25" fill="#e2a89c" stroke="#1a1a1a" stroke-width="0.5" fill-opacity="0.55" stroke-opacity="0.65"/>
<circle cx="268.10" cy="403.80" r="1.25" fill="#e2a89c" stroke="#1a1a1a" stroke-width="0.5" fill-opacity="0.55" stroke-opacity="0.65"/>
<circle cx="269.10" cy="406.00" r="1.25" fill="#e2a89c" stroke="#1a1a1a" stroke-width="0.5" fill-opacity="0.55" stroke-opacity="0.65"/>
<circle cx="267.90" cy="408.20" r="1.25" fill="#e2a89c" stroke="#1a1a1a" stroke-width="0.5" fill-opacity="0.55" stroke-opacity="0.65"/>
<circle cx="268.70" cy="410.30" r="1.25" fill="#e2a89c" stroke="#1a1a1a" stroke-width="0.5" fill-opacity="0.55" stroke-opacity="0.65"/>
<circle cx="269.40" cy="412.50" r="1.25" fill="#e2a89c" stroke="#1a1a1a" stroke-width="0.5" fill-opacity="0.55" stroke-opacity="0.65"/>
<circle cx="267.60" cy="416.10" r="1.25" fill="#e2a89c" stroke="#1a1a1a" stroke-width="0.5" fill-opacity="0.55" stroke-opacity="0.65"/>
<circle cx="285.80" cy="385.50" r="1.25" fill="#4a68a8" stroke="#1a1a1a" stroke-width="0.5" fill-opacity="0.55" stroke-opacity="0.65"/>
<circle cx="285.00" cy="398.80" r="1.25" fill="#4a68a8" stroke="#1a1a1a" stroke-width="0.5" fill-opacity="0.55" stroke-opacity="0.65"/>
<circle cx="286.60" cy="400.20" r="1.25" fill="#4a68a8" stroke="#1a1a1a" stroke-width="0.5" fill-opacity="0.55" stroke-opacity="0.65"/>
<circle cx="286.10" cy="403.10" r="1.25" fill="#4a68a8" stroke="#1a1a1a" stroke-width="0.5" fill-opacity="0.55" stroke-opacity="0.65"/>
<circle cx="285.40" cy="406.00" r="1.25" fill="#4a68a8" stroke="#1a1a1a" stroke-width="0.5" fill-opacity="0.55" stroke-opacity="0.65"/>
<circle cx="286.40" cy="410.30" r="1.25" fill="#4a68a8" stroke="#1a1a1a" stroke-width="0.5" fill-opacity="0.55" stroke-opacity="0.65"/>
<circle cx="285.20" cy="415.40" r="1.25" fill="#4a68a8" stroke="#1a1a1a" stroke-width="0.5" fill-opacity="0.55" stroke-opacity="0.65"/>
<circle cx="286.00" cy="419.00" r="1.25" fill="#4a68a8" stroke="#1a1a1a" stroke-width="0.5" fill-opacity="0.55" stroke-opacity="0.65"/>
<circle cx="302.95" cy="390.40" r="1.25" fill="#5aa898" stroke="#1a1a1a" stroke-width="0.5" fill-opacity="0.55" stroke-opacity="0.65"/>
<circle cx="302.15" cy="399.50" r="1.25" fill="#5aa898" stroke="#1a1a1a" stroke-width="0.5" fill-opacity="0.55" stroke-opacity="0.65"/>
<circle cx="303.75" cy="411.10" r="1.25" fill="#5aa898" stroke="#1a1a1a" stroke-width="0.5" fill-opacity="0.55" stroke-opacity="0.65"/>
<circle cx="303.25" cy="413.20" r="1.25" fill="#5aa898" stroke="#1a1a1a" stroke-width="0.5" fill-opacity="0.55" stroke-opacity="0.65"/>
<circle cx="302.55" cy="416.10" r="1.25" fill="#5aa898" stroke="#1a1a1a" stroke-width="0.5" fill-opacity="0.55" stroke-opacity="0.65"/>
<circle cx="303.55" cy="419.00" r="1.25" fill="#5aa898" stroke="#1a1a1a" stroke-width="0.5" fill-opacity="0.55" stroke-opacity="0.65"/>
<circle cx="302.35" cy="422.60" r="1.25" fill="#5aa898" stroke="#1a1a1a" stroke-width="0.5" fill-opacity="0.55" stroke-opacity="0.65"/>
<circle cx="303.15" cy="428.40" r="1.25" fill="#5aa898" stroke="#1a1a1a" stroke-width="0.5" fill-opacity="0.55" stroke-opacity="0.65"/>
<circle cx="336.95" cy="360.90" r="1.25" fill="#9a9a9a" stroke="#1a1a1a" stroke-width="0.5" fill-opacity="0.55" stroke-opacity="0.65"/>
<circle cx="336.15" cy="385.80" r="1.25" fill="#9a9a9a" stroke="#1a1a1a" stroke-width="0.5" fill-opacity="0.55" stroke-opacity="0.65"/>
<circle cx="337.75" cy="398.80" r="1.25" fill="#9a9a9a" stroke="#1a1a1a" stroke-width="0.5" fill-opacity="0.55" stroke-opacity="0.65"/>
<circle cx="337.25" cy="401.70" r="1.25" fill="#9a9a9a" stroke="#1a1a1a" stroke-width="0.5" fill-opacity="0.55" stroke-opacity="0.65"/>
<circle cx="336.55" cy="403.90" r="1.25" fill="#9a9a9a" stroke="#1a1a1a" stroke-width="0.5" fill-opacity="0.55" stroke-opacity="0.65"/>
<circle cx="337.55" cy="406.10" r="1.25" fill="#9a9a9a" stroke="#1a1a1a" stroke-width="0.5" fill-opacity="0.55" stroke-opacity="0.65"/>
<circle cx="336.35" cy="407.50" r="1.25" fill="#9a9a9a" stroke="#1a1a1a" stroke-width="0.5" fill-opacity="0.55" stroke-opacity="0.65"/>
<circle cx="337.15" cy="409.70" r="1.25" fill="#9a9a9a" stroke="#1a1a1a" stroke-width="0.5" fill-opacity="0.55" stroke-opacity="0.65"/>
<circle cx="337.85" cy="411.80" r="1.25" fill="#9a9a9a" stroke="#1a1a1a" stroke-width="0.5" fill-opacity="0.55" stroke-opacity="0.65"/>
<circle cx="336.05" cy="413.30" r="1.25" fill="#9a9a9a" stroke="#1a1a1a" stroke-width="0.5" fill-opacity="0.55" stroke-opacity="0.65"/>
<circle cx="353.80" cy="384.00" r="1.25" fill="#e2a89c" stroke="#1a1a1a" stroke-width="0.5" fill-opacity="0.55" stroke-opacity="0.65"/>
<circle cx="353.00" cy="389.50" r="1.25" fill="#e2a89c" stroke="#1a1a1a" stroke-width="0.5" fill-opacity="0.55" stroke-opacity="0.65"/>
<circle cx="354.60" cy="390.20" r="1.25" fill="#e2a89c" stroke="#1a1a1a" stroke-width="0.5" fill-opacity="0.55" stroke-opacity="0.65"/>
<circle cx="354.10" cy="397.40" r="1.25" fill="#e2a89c" stroke="#1a1a1a" stroke-width="0.5" fill-opacity="0.55" stroke-opacity="0.65"/>
<circle cx="353.40" cy="400.30" r="1.25" fill="#e2a89c" stroke="#1a1a1a" stroke-width="0.5" fill-opacity="0.55" stroke-opacity="0.65"/>
<circle cx="354.40" cy="403.20" r="1.25" fill="#e2a89c" stroke="#1a1a1a" stroke-width="0.5" fill-opacity="0.55" stroke-opacity="0.65"/>
<circle cx="353.20" cy="406.10" r="1.25" fill="#e2a89c" stroke="#1a1a1a" stroke-width="0.5" fill-opacity="0.55" stroke-opacity="0.65"/>
<circle cx="354.00" cy="409.70" r="1.25" fill="#e2a89c" stroke="#1a1a1a" stroke-width="0.5" fill-opacity="0.55" stroke-opacity="0.65"/>
<circle cx="354.70" cy="414.00" r="1.25" fill="#e2a89c" stroke="#1a1a1a" stroke-width="0.5" fill-opacity="0.55" stroke-opacity="0.65"/>
<circle cx="352.90" cy="421.00" r="1.25" fill="#e2a89c" stroke="#1a1a1a" stroke-width="0.5" fill-opacity="0.55" stroke-opacity="0.65"/>
<circle cx="370.95" cy="380.10" r="1.25" fill="#4a68a8" stroke="#1a1a1a" stroke-width="0.5" fill-opacity="0.55" stroke-opacity="0.65"/>
<circle cx="370.15" cy="384.80" r="1.25" fill="#4a68a8" stroke="#1a1a1a" stroke-width="0.5" fill-opacity="0.55" stroke-opacity="0.65"/>
<circle cx="371.75" cy="386.30" r="1.25" fill="#4a68a8" stroke="#1a1a1a" stroke-width="0.5" fill-opacity="0.55" stroke-opacity="0.65"/>
<circle cx="371.25" cy="388.00" r="1.25" fill="#4a68a8" stroke="#1a1a1a" stroke-width="0.5" fill-opacity="0.55" stroke-opacity="0.65"/>
<circle cx="370.55" cy="389.20" r="1.25" fill="#4a68a8" stroke="#1a1a1a" stroke-width="0.5" fill-opacity="0.55" stroke-opacity="0.65"/>
<circle cx="371.55" cy="401.00" r="1.25" fill="#4a68a8" stroke="#1a1a1a" stroke-width="0.5" fill-opacity="0.55" stroke-opacity="0.65"/>
<circle cx="370.35" cy="406.10" r="1.25" fill="#4a68a8" stroke="#1a1a1a" stroke-width="0.5" fill-opacity="0.55" stroke-opacity="0.65"/>
<circle cx="371.15" cy="409.00" r="1.25" fill="#4a68a8" stroke="#1a1a1a" stroke-width="0.5" fill-opacity="0.55" stroke-opacity="0.65"/>
<circle cx="371.85" cy="424.10" r="1.25" fill="#4a68a8" stroke="#1a1a1a" stroke-width="0.5" fill-opacity="0.55" stroke-opacity="0.65"/>
<circle cx="370.05" cy="424.90" r="1.25" fill="#4a68a8" stroke="#1a1a1a" stroke-width="0.5" fill-opacity="0.55" stroke-opacity="0.65"/>
<circle cx="388.05" cy="402.20" r="1.25" fill="#5aa898" stroke="#1a1a1a" stroke-width="0.5" fill-opacity="0.55" stroke-opacity="0.65"/>
<circle cx="387.25" cy="406.10" r="1.25" fill="#5aa898" stroke="#1a1a1a" stroke-width="0.5" fill-opacity="0.55" stroke-opacity="0.65"/>
<circle cx="388.85" cy="416.90" r="1.25" fill="#5aa898" stroke="#1a1a1a" stroke-width="0.5" fill-opacity="0.55" stroke-opacity="0.65"/>
<circle cx="388.35" cy="418.40" r="1.25" fill="#5aa898" stroke="#1a1a1a" stroke-width="0.5" fill-opacity="0.55" stroke-opacity="0.65"/>
<circle cx="387.65" cy="421.20" r="1.25" fill="#5aa898" stroke="#1a1a1a" stroke-width="0.5" fill-opacity="0.55" stroke-opacity="0.65"/>
<circle cx="388.65" cy="424.10" r="1.25" fill="#5aa898" stroke="#1a1a1a" stroke-width="0.5" fill-opacity="0.55" stroke-opacity="0.65"/>
<circle cx="387.45" cy="427.00" r="1.25" fill="#5aa898" stroke="#1a1a1a" stroke-width="0.5" fill-opacity="0.55" stroke-opacity="0.65"/>
<circle cx="388.25" cy="428.50" r="1.25" fill="#5aa898" stroke="#1a1a1a" stroke-width="0.5" fill-opacity="0.55" stroke-opacity="0.65"/>
<circle cx="388.95" cy="429.90" r="1.25" fill="#5aa898" stroke="#1a1a1a" stroke-width="0.5" fill-opacity="0.55" stroke-opacity="0.65"/>
<circle cx="387.15" cy="437.10" r="1.25" fill="#5aa898" stroke="#1a1a1a" stroke-width="0.5" fill-opacity="0.55" stroke-opacity="0.65"/>
<line x1="251.70000000000002" y1="402.8" x2="251.70000000000002" y2="406.7" stroke="#2a2a2a" stroke-width="0.7"/>
<line x1="249.10000000000002" y1="402.8" x2="254.3" y2="402.8" stroke="#2a2a2a" stroke-width="0.7"/>
<line x1="249.10000000000002" y1="406.7" x2="254.3" y2="406.7" stroke="#2a2a2a" stroke-width="0.7"/>
<line x1="268.5" y1="401.4" x2="268.5" y2="407.5" stroke="#2a2a2a" stroke-width="0.7"/>
<line x1="265.9" y1="401.4" x2="271.1" y2="401.4" stroke="#2a2a2a" stroke-width="0.7"/>
<line x1="265.9" y1="407.5" x2="271.1" y2="407.5" stroke="#2a2a2a" stroke-width="0.7"/>
<line x1="285.79999999999995" y1="401.7" x2="285.79999999999995" y2="407.5" stroke="#2a2a2a" stroke-width="0.7"/>
<line x1="283.19999999999993" y1="401.7" x2="288.4" y2="401.7" stroke="#2a2a2a" stroke-width="0.7"/>
<line x1="283.19999999999993" y1="407.5" x2="288.4" y2="407.5" stroke="#2a2a2a" stroke-width="0.7"/>
<line x1="302.95" y1="411.1" x2="302.95" y2="417.9" stroke="#2a2a2a" stroke-width="0.7"/>
<line x1="300.34999999999997" y1="411.1" x2="305.55" y2="411.1" stroke="#2a2a2a" stroke-width="0.7"/>
<line x1="300.34999999999997" y1="417.9" x2="305.55" y2="417.9" stroke="#2a2a2a" stroke-width="0.7"/>
<line x1="336.95000000000005" y1="394.2" x2="336.95000000000005" y2="402.5" stroke="#2a2a2a" stroke-width="0.7"/>
<line x1="334.35" y1="394.2" x2="339.55000000000007" y2="394.2" stroke="#2a2a2a" stroke-width="0.7"/>
<line x1="334.35" y1="402.5" x2="339.55000000000007" y2="402.5" stroke="#2a2a2a" stroke-width="0.7"/>
<line x1="353.79999999999995" y1="396.4" x2="353.79999999999995" y2="403.2" stroke="#2a2a2a" stroke-width="0.7"/>
<line x1="351.19999999999993" y1="396.4" x2="356.4" y2="396.4" stroke="#2a2a2a" stroke-width="0.7"/>
<line x1="351.19999999999993" y1="403.2" x2="356.4" y2="403.2" stroke="#2a2a2a" stroke-width="0.7"/>
<line x1="370.95" y1="396" x2="370.95" y2="401.7" stroke="#2a2a2a" stroke-width="0.7"/>
<line x1="368.34999999999997" y1="396" x2="373.55" y2="396" stroke="#2a2a2a" stroke-width="0.7"/>
<line x1="368.34999999999997" y1="401.7" x2="373.55" y2="401.7" stroke="#2a2a2a" stroke-width="0.7"/>
<line x1="388.05" y1="416.9" x2="388.05" y2="424.1" stroke="#2a2a2a" stroke-width="0.7"/>
<line x1="385.45" y1="416.9" x2="390.65000000000003" y2="416.9" stroke="#2a2a2a" stroke-width="0.7"/>
<line x1="385.45" y1="424.1" x2="390.65000000000003" y2="424.1" stroke="#2a2a2a" stroke-width="0.7"/>
<text x="277.6" y="482.9" font-size="8.15" text-anchor="middle" fill="#222" >Female</text>
<text x="360" y="482.9" font-size="8.15" text-anchor="middle" fill="#222" >Male</text>
<line x1="332.7" y1="350.3" x2="392.2" y2="350.3" stroke="#7f7f7f" stroke-width="1"/>
<text x="363.2" y="349.2" font-size="8.5" text-anchor="middle" fill="#111" >*</text>
<line x1="352.6" y1="359.2" x2="392.2" y2="359.2" stroke="#7f7f7f" stroke-width="1"/>
<text x="373.1" y="358.09999999999997" font-size="8.5" text-anchor="middle" fill="#111" >*</text>
<line x1="372.4" y1="368.4" x2="392.2" y2="368.4" stroke="#7f7f7f" stroke-width="1"/>
<text x="383.8" y="367.29999999999995" font-size="8.5" text-anchor="middle" fill="#111" >**</text>
<rect x="443.3" y="320.8" width="42.70" height="9.70" fill="url(#tg4)"/>
<text x="427.3" y="329.7" font-size="11.2" text-anchor="start" fill="#231f20" >F</text>
<text x="443.7" y="328.8" font-size="9.22" text-anchor="start" fill="#231f20" >Elevated plus maze</text>
<line x1="444.9" y1="332.5" x2="444.9" y2="475.0" stroke="#7f7f7f" stroke-width="1"/>
<text x="443.8" y="475.98560000000003" font-size="8.8" text-anchor="end" fill="#2a2a2a" >0</text>
<text x="443.8" y="425.1856" font-size="8.8" text-anchor="end" fill="#2a2a2a" >10</text>
<text x="443.8" y="374.3856" font-size="8.8" text-anchor="end" fill="#2a2a2a" >20</text>
<line x1="443.9" y1="474.95" x2="631.7" y2="474.95" stroke="#bdbdbd" stroke-width="1.6"/>
<text x="0" y="0" font-size="8.64" text-anchor="middle" fill="#222" transform="translate(430.3,389.8) rotate(-90)">Time in Open(%)</text>
<rect x="462.70" y="427.40" width="14.90" height="47.40" fill="#acacac" />
<rect x="479.60" y="424.30" width="15.10" height="50.50" fill="#e6b4aa" />
<rect x="496.80" y="429.10" width="15.10" height="45.70" fill="#526ca0" />
<rect x="513.70" y="433.00" width="15.10" height="41.80" fill="#67a79c" />
<rect x="548.10" y="400.00" width="14.70" height="74.80" fill="#acacac" />
<rect x="565.00" y="432.70" width="15.00" height="42.10" fill="#e6b4aa" />
<rect x="582.10" y="420.00" width="14.70" height="54.80" fill="#526ca0" />
<rect x="599.30" y="446.00" width="14.70" height="28.80" fill="#67a79c" />
<circle cx="470.15" cy="417.40" r="1.25" fill="#9a9a9a" stroke="#1a1a1a" stroke-width="0.5" fill-opacity="0.55" stroke-opacity="0.65"/>
<circle cx="469.35" cy="423.60" r="1.25" fill="#9a9a9a" stroke="#1a1a1a" stroke-width="0.5" fill-opacity="0.55" stroke-opacity="0.65"/>
<circle cx="470.95" cy="424.60" r="1.25" fill="#9a9a9a" stroke="#1a1a1a" stroke-width="0.5" fill-opacity="0.55" stroke-opacity="0.65"/>
<circle cx="470.45" cy="425.60" r="1.25" fill="#9a9a9a" stroke="#1a1a1a" stroke-width="0.5" fill-opacity="0.55" stroke-opacity="0.65"/>
<circle cx="469.75" cy="426.50" r="1.25" fill="#9a9a9a" stroke="#1a1a1a" stroke-width="0.5" fill-opacity="0.55" stroke-opacity="0.65"/>
<circle cx="470.75" cy="427.50" r="1.25" fill="#9a9a9a" stroke="#1a1a1a" stroke-width="0.5" fill-opacity="0.55" stroke-opacity="0.65"/>
<circle cx="469.55" cy="429.40" r="1.25" fill="#9a9a9a" stroke="#1a1a1a" stroke-width="0.5" fill-opacity="0.55" stroke-opacity="0.65"/>
<circle cx="470.35" cy="433.30" r="1.25" fill="#9a9a9a" stroke="#1a1a1a" stroke-width="0.5" fill-opacity="0.55" stroke-opacity="0.65"/>
<circle cx="471.05" cy="434.00" r="1.25" fill="#9a9a9a" stroke="#1a1a1a" stroke-width="0.5" fill-opacity="0.55" stroke-opacity="0.65"/>
<circle cx="487.15" cy="405.80" r="1.25" fill="#e2a89c" stroke="#1a1a1a" stroke-width="0.5" fill-opacity="0.55" stroke-opacity="0.65"/>
<circle cx="486.35" cy="414.10" r="1.25" fill="#e2a89c" stroke="#1a1a1a" stroke-width="0.5" fill-opacity="0.55" stroke-opacity="0.65"/>
<circle cx="487.95" cy="415.20" r="1.25" fill="#e2a89c" stroke="#1a1a1a" stroke-width="0.5" fill-opacity="0.55" stroke-opacity="0.65"/>
<circle cx="487.45" cy="417.00" r="1.25" fill="#e2a89c" stroke="#1a1a1a" stroke-width="0.5" fill-opacity="0.55" stroke-opacity="0.65"/>
<circle cx="486.75" cy="429.40" r="1.25" fill="#e2a89c" stroke="#1a1a1a" stroke-width="0.5" fill-opacity="0.55" stroke-opacity="0.65"/>
<circle cx="487.75" cy="429.70" r="1.25" fill="#e2a89c" stroke="#1a1a1a" stroke-width="0.5" fill-opacity="0.55" stroke-opacity="0.65"/>
<circle cx="486.55" cy="435.50" r="1.25" fill="#e2a89c" stroke="#1a1a1a" stroke-width="0.5" fill-opacity="0.55" stroke-opacity="0.65"/>
<circle cx="487.35" cy="439.80" r="1.25" fill="#e2a89c" stroke="#1a1a1a" stroke-width="0.5" fill-opacity="0.55" stroke-opacity="0.65"/>
<circle cx="488.05" cy="446.70" r="1.25" fill="#e2a89c" stroke="#1a1a1a" stroke-width="0.5" fill-opacity="0.55" stroke-opacity="0.65"/>
<circle cx="504.35" cy="406.80" r="1.25" fill="#4a68a8" stroke="#1a1a1a" stroke-width="0.5" fill-opacity="0.55" stroke-opacity="0.65"/>
<circle cx="503.55" cy="424.60" r="1.25" fill="#4a68a8" stroke="#1a1a1a" stroke-width="0.5" fill-opacity="0.55" stroke-opacity="0.65"/>
<circle cx="505.15" cy="425.60" r="1.25" fill="#4a68a8" stroke="#1a1a1a" stroke-width="0.5" fill-opacity="0.55" stroke-opacity="0.65"/>
<circle cx="504.65" cy="426.50" r="1.25" fill="#4a68a8" stroke="#1a1a1a" stroke-width="0.5" fill-opacity="0.55" stroke-opacity="0.65"/>
<circle cx="503.95" cy="429.00" r="1.25" fill="#4a68a8" stroke="#1a1a1a" stroke-width="0.5" fill-opacity="0.55" stroke-opacity="0.65"/>
<circle cx="504.95" cy="431.80" r="1.25" fill="#4a68a8" stroke="#1a1a1a" stroke-width="0.5" fill-opacity="0.55" stroke-opacity="0.65"/>
<circle cx="503.75" cy="433.30" r="1.25" fill="#4a68a8" stroke="#1a1a1a" stroke-width="0.5" fill-opacity="0.55" stroke-opacity="0.65"/>
<circle cx="504.55" cy="438.10" r="1.25" fill="#4a68a8" stroke="#1a1a1a" stroke-width="0.5" fill-opacity="0.55" stroke-opacity="0.65"/>
<circle cx="521.25" cy="395.00" r="1.25" fill="#5aa898" stroke="#1a1a1a" stroke-width="0.5" fill-opacity="0.55" stroke-opacity="0.65"/>
<circle cx="520.45" cy="410.90" r="1.25" fill="#5aa898" stroke="#1a1a1a" stroke-width="0.5" fill-opacity="0.55" stroke-opacity="0.65"/>
<circle cx="522.05" cy="414.50" r="1.25" fill="#5aa898" stroke="#1a1a1a" stroke-width="0.5" fill-opacity="0.55" stroke-opacity="0.65"/>
<circle cx="521.55" cy="434.00" r="1.25" fill="#5aa898" stroke="#1a1a1a" stroke-width="0.5" fill-opacity="0.55" stroke-opacity="0.65"/>
<circle cx="520.85" cy="439.10" r="1.25" fill="#5aa898" stroke="#1a1a1a" stroke-width="0.5" fill-opacity="0.55" stroke-opacity="0.65"/>
<circle cx="521.85" cy="444.10" r="1.25" fill="#5aa898" stroke="#1a1a1a" stroke-width="0.5" fill-opacity="0.55" stroke-opacity="0.65"/>
<circle cx="520.65" cy="453.10" r="1.25" fill="#5aa898" stroke="#1a1a1a" stroke-width="0.5" fill-opacity="0.55" stroke-opacity="0.65"/>
<circle cx="555.45" cy="357.00" r="1.25" fill="#9a9a9a" stroke="#1a1a1a" stroke-width="0.5" fill-opacity="0.55" stroke-opacity="0.65"/>
<circle cx="554.65" cy="364.40" r="1.25" fill="#9a9a9a" stroke="#1a1a1a" stroke-width="0.5" fill-opacity="0.55" stroke-opacity="0.65"/>
<circle cx="556.25" cy="374.30" r="1.25" fill="#9a9a9a" stroke="#1a1a1a" stroke-width="0.5" fill-opacity="0.55" stroke-opacity="0.65"/>
<circle cx="555.75" cy="378.60" r="1.25" fill="#9a9a9a" stroke="#1a1a1a" stroke-width="0.5" fill-opacity="0.55" stroke-opacity="0.65"/>
<circle cx="555.05" cy="379.80" r="1.25" fill="#9a9a9a" stroke="#1a1a1a" stroke-width="0.5" fill-opacity="0.55" stroke-opacity="0.65"/>
<circle cx="556.05" cy="390.20" r="1.25" fill="#9a9a9a" stroke="#1a1a1a" stroke-width="0.5" fill-opacity="0.55" stroke-opacity="0.65"/>
<circle cx="554.85" cy="418.30" r="1.25" fill="#9a9a9a" stroke="#1a1a1a" stroke-width="0.5" fill-opacity="0.55" stroke-opacity="0.65"/>
<circle cx="555.65" cy="431.50" r="1.25" fill="#9a9a9a" stroke="#1a1a1a" stroke-width="0.5" fill-opacity="0.55" stroke-opacity="0.65"/>
<circle cx="556.35" cy="451.30" r="1.25" fill="#9a9a9a" stroke="#1a1a1a" stroke-width="0.5" fill-opacity="0.55" stroke-opacity="0.65"/>
<circle cx="554.55" cy="457.30" r="1.25" fill="#9a9a9a" stroke="#1a1a1a" stroke-width="0.5" fill-opacity="0.55" stroke-opacity="0.65"/>
<circle cx="572.50" cy="406.60" r="1.25" fill="#e2a89c" stroke="#1a1a1a" stroke-width="0.5" fill-opacity="0.55" stroke-opacity="0.65"/>
<circle cx="571.70" cy="420.80" r="1.25" fill="#e2a89c" stroke="#1a1a1a" stroke-width="0.5" fill-opacity="0.55" stroke-opacity="0.65"/>
<circle cx="573.30" cy="423.30" r="1.25" fill="#e2a89c" stroke="#1a1a1a" stroke-width="0.5" fill-opacity="0.55" stroke-opacity="0.65"/>
<circle cx="572.80" cy="430.00" r="1.25" fill="#e2a89c" stroke="#1a1a1a" stroke-width="0.5" fill-opacity="0.55" stroke-opacity="0.65"/>
<circle cx="572.10" cy="433.20" r="1.25" fill="#e2a89c" stroke="#1a1a1a" stroke-width="0.5" fill-opacity="0.55" stroke-opacity="0.65"/>
<circle cx="573.10" cy="436.90" r="1.25" fill="#e2a89c" stroke="#1a1a1a" stroke-width="0.5" fill-opacity="0.55" stroke-opacity="0.65"/>
<circle cx="571.90" cy="443.90" r="1.25" fill="#e2a89c" stroke="#1a1a1a" stroke-width="0.5" fill-opacity="0.55" stroke-opacity="0.65"/>
<circle cx="572.70" cy="458.00" r="1.25" fill="#e2a89c" stroke="#1a1a1a" stroke-width="0.5" fill-opacity="0.55" stroke-opacity="0.65"/>
<circle cx="589.45" cy="388.50" r="1.25" fill="#4a68a8" stroke="#1a1a1a" stroke-width="0.5" fill-opacity="0.55" stroke-opacity="0.65"/>
<circle cx="588.65" cy="402.60" r="1.25" fill="#4a68a8" stroke="#1a1a1a" stroke-width="0.5" fill-opacity="0.55" stroke-opacity="0.65"/>
<circle cx="590.25" cy="405.10" r="1.25" fill="#4a68a8" stroke="#1a1a1a" stroke-width="0.5" fill-opacity="0.55" stroke-opacity="0.65"/>
<circle cx="589.75" cy="412.10" r="1.25" fill="#4a68a8" stroke="#1a1a1a" stroke-width="0.5" fill-opacity="0.55" stroke-opacity="0.65"/>
<circle cx="589.05" cy="435.70" r="1.25" fill="#4a68a8" stroke="#1a1a1a" stroke-width="0.5" fill-opacity="0.55" stroke-opacity="0.65"/>
<circle cx="590.05" cy="442.40" r="1.25" fill="#4a68a8" stroke="#1a1a1a" stroke-width="0.5" fill-opacity="0.55" stroke-opacity="0.65"/>
<circle cx="606.65" cy="419.50" r="1.25" fill="#5aa898" stroke="#1a1a1a" stroke-width="0.5" fill-opacity="0.55" stroke-opacity="0.65"/>
<circle cx="605.85" cy="431.50" r="1.25" fill="#5aa898" stroke="#1a1a1a" stroke-width="0.5" fill-opacity="0.55" stroke-opacity="0.65"/>
<circle cx="607.45" cy="439.40" r="1.25" fill="#5aa898" stroke="#1a1a1a" stroke-width="0.5" fill-opacity="0.55" stroke-opacity="0.65"/>
<circle cx="606.95" cy="448.10" r="1.25" fill="#5aa898" stroke="#1a1a1a" stroke-width="0.5" fill-opacity="0.55" stroke-opacity="0.65"/>
<circle cx="606.25" cy="451.30" r="1.25" fill="#5aa898" stroke="#1a1a1a" stroke-width="0.5" fill-opacity="0.55" stroke-opacity="0.65"/>
<circle cx="607.25" cy="458.80" r="1.25" fill="#5aa898" stroke="#1a1a1a" stroke-width="0.5" fill-opacity="0.55" stroke-opacity="0.65"/>
<circle cx="606.05" cy="472.50" r="1.25" fill="#5aa898" stroke="#1a1a1a" stroke-width="0.5" fill-opacity="0.55" stroke-opacity="0.65"/>
<line x1="470.15" y1="427.1" x2="470.15" y2="429.7" stroke="#2a2a2a" stroke-width="0.7"/>
<line x1="467.54999999999995" y1="427.1" x2="472.75" y2="427.1" stroke="#2a2a2a" stroke-width="0.7"/>
<line x1="467.54999999999995" y1="429.7" x2="472.75" y2="429.7" stroke="#2a2a2a" stroke-width="0.7"/>
<line x1="487.15" y1="420.3" x2="487.15" y2="429.7" stroke="#2a2a2a" stroke-width="0.7"/>
<line x1="484.54999999999995" y1="420.3" x2="489.75" y2="420.3" stroke="#2a2a2a" stroke-width="0.7"/>
<line x1="484.54999999999995" y1="429.7" x2="489.75" y2="429.7" stroke="#2a2a2a" stroke-width="0.7"/>
<line x1="504.35" y1="427.1" x2="504.35" y2="431.1" stroke="#2a2a2a" stroke-width="0.7"/>
<line x1="501.75" y1="427.1" x2="506.95000000000005" y2="427.1" stroke="#2a2a2a" stroke-width="0.7"/>
<line x1="501.75" y1="431.1" x2="506.95000000000005" y2="431.1" stroke="#2a2a2a" stroke-width="0.7"/>
<line x1="521.25" y1="426.1" x2="521.25" y2="439.1" stroke="#2a2a2a" stroke-width="0.7"/>
<line x1="518.65" y1="426.1" x2="523.85" y2="426.1" stroke="#2a2a2a" stroke-width="0.7"/>
<line x1="518.65" y1="439.1" x2="523.85" y2="439.1" stroke="#2a2a2a" stroke-width="0.7"/>
<line x1="555.45" y1="388.5" x2="555.45" y2="412.1" stroke="#2a2a2a" stroke-width="0.7"/>
<line x1="552.85" y1="388.5" x2="558.0500000000001" y2="388.5" stroke="#2a2a2a" stroke-width="0.7"/>
<line x1="552.85" y1="412.1" x2="558.0500000000001" y2="412.1" stroke="#2a2a2a" stroke-width="0.7"/>
<line x1="572.5" y1="428.2" x2="572.5" y2="433.2" stroke="#2a2a2a" stroke-width="0.7"/>
<line x1="569.9" y1="428.2" x2="575.1" y2="428.2" stroke="#2a2a2a" stroke-width="0.7"/>
<line x1="569.9" y1="433.2" x2="575.1" y2="433.2" stroke="#2a2a2a" stroke-width="0.7"/>
<line x1="589.45" y1="414.6" x2="589.45" y2="425.7" stroke="#2a2a2a" stroke-width="0.7"/>
<line x1="586.85" y1="414.6" x2="592.0500000000001" y2="414.6" stroke="#2a2a2a" stroke-width="0.7"/>
<line x1="586.85" y1="425.7" x2="592.0500000000001" y2="425.7" stroke="#2a2a2a" stroke-width="0.7"/>
<line x1="606.65" y1="441.9" x2="606.65" y2="451.8" stroke="#2a2a2a" stroke-width="0.7"/>
<line x1="604.05" y1="441.9" x2="609.25" y2="441.9" stroke="#2a2a2a" stroke-width="0.7"/>
<line x1="604.05" y1="451.8" x2="609.25" y2="451.8" stroke="#2a2a2a" stroke-width="0.7"/>
<text x="496.2" y="482.9" font-size="8.15" text-anchor="middle" fill="#222" >Female</text>
<text x="578.2" y="482.9" font-size="8.15" text-anchor="middle" fill="#222" >Male</text>
<line x1="550.7" y1="350.3" x2="611.1" y2="350.3" stroke="#7f7f7f" stroke-width="1"/>
<text x="582.5" y="349.2" font-size="8.5" text-anchor="middle" fill="#111" >**</text>
<line x1="590.4" y1="368.2" x2="611.1" y2="368.2" stroke="#7f7f7f" stroke-width="1"/>
<text x="601.5" y="367.09999999999997" font-size="8.5" text-anchor="middle" fill="#111" >*</text>
</svg>
</body></html>
